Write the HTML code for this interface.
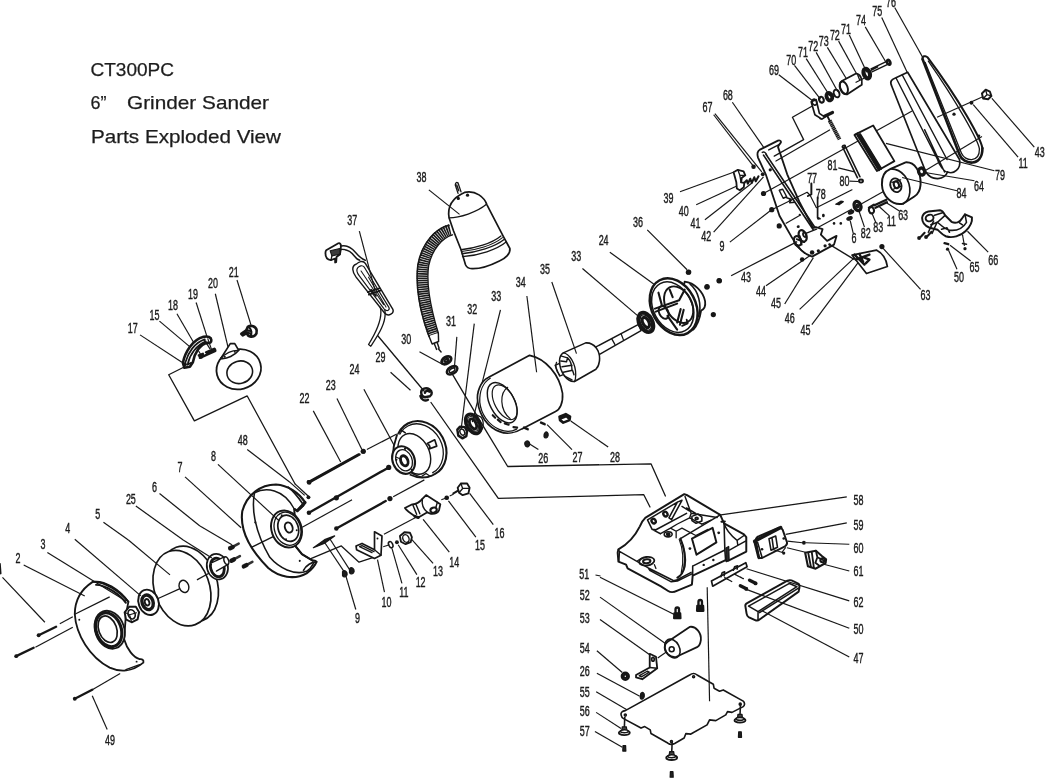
<!DOCTYPE html>
<html><head><meta charset="utf-8"><title>CT300PC Parts Exploded View</title>
<style>
html,body{margin:0;padding:0;background:#fff;}
body{width:1045px;height:778px;overflow:hidden;font-family:"Liberation Sans",sans-serif;}
svg{display:block;}
svg text{font-family:"Liberation Sans",sans-serif;fill:#1c1c1c;}
svg path,svg ellipse,svg circle{stroke-linejoin:round;}
svg text{stroke:#161616;stroke-width:0.4px;}
</style></head><body>
<svg width="1045" height="778" viewBox="0 0 1045 778">
<defs><filter id="soft" x="0" y="0" width="100%" height="100%" filterUnits="userSpaceOnUse"><feGaussianBlur stdDeviation="0.45"/></filter></defs>
<rect width="1045" height="778" fill="#fff"/>
<g filter="url(#soft)">
<!-- 00_title.py -->
<g font-size="19" fill="#222" style="stroke:none">
<text style="stroke:#222;stroke-width:0.25px" x="90.5" y="75.5" textLength="83.5" lengthAdjust="spacingAndGlyphs">CT300PC</text>
<text style="stroke:#222;stroke-width:0.25px" x="90.5" y="109.3" textLength="16" lengthAdjust="spacingAndGlyphs">6”</text>
<text style="stroke:#222;stroke-width:0.25px" x="127" y="109.3" textLength="142" lengthAdjust="spacingAndGlyphs">Grinder Sander</text>
<text style="stroke:#222;stroke-width:0.25px" x="91" y="142.8" textLength="190" lengthAdjust="spacingAndGlyphs">Parts Exploded View</text>
</g>
<!-- 05_lines.py -->
<path d="M 452.8 374.8 L 482.3 424.6 L 507.7 466.5 L 651 463.8 L 665.4 496" fill="none" stroke="#161616" stroke-width="1.3" stroke-linecap="round" />
<path d="M 431 402.5 L 498.3 498.4 L 643.8 494.7 L 650 507" fill="none" stroke="#161616" stroke-width="1.3" stroke-linecap="round" />
<path d="M 378 336 L 424 391" fill="none" stroke="#161616" stroke-width="1.3" stroke-linecap="round" />
<!-- 10_lamp.py -->
<text transform="translate(421.4 177.45) scale(0.64 1)" text-anchor="middle" font-size="14" y="5.012">38</text>
<text transform="translate(352.35 219.83) scale(0.64 1)" text-anchor="middle" font-size="14" y="5.012">37</text>
<path d="M359.33 231.05 L374.78 289.63" stroke="#161616" stroke-width="1.17" fill="none"/>
<path d="M 450.32 229.8 C 439.6 232.29 427.13 244.76 423.14 264.7 C 420.15 284.64 424.64 309.57 433.37 334.5" fill="none" stroke="#fff" stroke-width="11.18" stroke-linecap="round" style="stroke-linecap:butt"/>
<path d="M 450.32 229.8 C 439.6 232.29 427.13 244.76 423.14 264.7 C 420.15 284.64 424.64 309.57 433.37 334.5" fill="none" stroke="#1a1a1a" stroke-width="11.18" stroke-linecap="round" stroke-dasharray="1.6 0.6" style="stroke-linecap:butt"/>
<path d="M 448.82 225.31 C 435.86 228.55 422.15 242.26 417.91 264.7 C 415.17 284.64 419.65 312.06 429.13 336.49" fill="none" stroke="#161616" stroke-width="1.56" stroke-linecap="round" />
<path d="M 452.56 234.78 C 443.34 237.28 432.12 248.49 428.63 265.94 C 425.89 284.64 430.37 307.08 438.35 333.25" fill="none" stroke="#161616" stroke-width="1.3" stroke-linecap="round" />
<path d="M 429.13 336.49 L 432.12 343.97 L 438.6 341.48 L 438.35 333.25 M 434.11 343.22 L 436.61 349.45 M 437.1 342.22 L 439.1 348.21 M 438.35 348.71 L 441.09 351.95" fill="none" stroke="#161616" stroke-width="1.43" stroke-linecap="round" />
<path d="M 449.07 217.83 C 447.08 206.12 453.31 197.39 464.53 192.41 C 475.74 189.91 484.47 197.39 486.96 204.87 L 503.16 236.03 L 509.89 248.49 C 510.64 253.48 505.66 258.47 499.42 260.96 C 489.45 265.94 478.24 268.94 472 268.69 C 468.26 268.44 466.52 267.19 465.52 264.7 L 461.04 249.74 L 453.56 231.05 Z" fill="#fff" stroke="#161616" stroke-width="1.69" stroke-linecap="round" />
<path d="M 449.07 217.83 C 459.54 217.83 476.99 212.35 486.46 204.37" fill="none" stroke="#161616" stroke-width="1.3" stroke-linecap="round" />
<path d="M 461.04 249.74 C 474.5 248.49 491.95 243.51 500.92 236.03" fill="none" stroke="#161616" stroke-width="1.3" stroke-linecap="round" />
<path d="M 461.53 251.49 C 475.74 250.24 493.19 245.25 502.42 237.53" fill="none" stroke="#161616" stroke-width="1.04" stroke-linecap="round" />
<path d="M 462.03 253.73 C 476.99 252.23 494.44 247.25 504.41 239.27" fill="none" stroke="#161616" stroke-width="1.3" stroke-linecap="round" />
<path d="M 462.53 256.72 C 478.24 255.47 496.93 249.74 506.4 241.76" fill="none" stroke="#161616" stroke-width="1.3" stroke-linecap="round" />
<path d="M428.88 189.91 L459.54 214.34" stroke="#161616" stroke-width="1.17" fill="none"/>
<path d="M 455.3 184.93 Q 455.55 181.44 458.04 182.93 L 461.04 191.91 M 455.3 184.93 L 458.04 193.4 M 456.8 184.93 L 458.79 190.91" fill="none" stroke="#161616" stroke-width="1.3" stroke-linecap="round" />
<circle cx="458.29" cy="198.39" r="1.62033" fill="#161616"/>
<circle cx="467.52" cy="195.15" r="1.62033" fill="#161616"/>
<path d="M 326.17 250.24 L 338.39 243.26 C 339.88 242.76 341.13 244.26 340.88 246 L 340.63 250.24 L 339.88 254.48 L 336.64 256.72 L 336.15 262.21 L 335.15 262.45 L 335.15 258.47 L 330.91 260.21 C 327.42 259.71 325.43 256.72 325.43 253.23 C 325.43 251.98 325.68 250.99 326.17 250.24 Z" fill="#fff" stroke="#161616" stroke-width="1.82" stroke-linecap="round" />
<path d="M 330.16 250.74 L 339.64 248.49 L 340.13 253.98 L 331.91 255.97 Z" fill="#3a3a3a" stroke="#161616" stroke-width="1.04" stroke-linecap="round" />
<path d="M 330.91 260.21 L 331.91 255.97 M 336.64 256.72 L 340.13 253.98" fill="none" stroke="#161616" stroke-width="1.3" stroke-linecap="round" />
<path d="M 340.88 246 C 346.37 244.76 351.1 247.25 355.34 252.23 C 358.58 255.97 361.82 259.21 365.31 260.21" fill="none" stroke="#161616" stroke-width="1.43" stroke-linecap="round" />
<path d="M 340.88 249.49 C 347.36 248.74 351.1 251.74 354.34 255.97 C 356.34 258.72 357.83 259.96 359.83 260.21" fill="none" stroke="#161616" stroke-width="1.43" stroke-linecap="round" />
<path d="M 356.09 264.2 C 351.1 265.94 352.35 272.18 356.09 277.16 L 384.76 313.31 C 388.49 317.05 394.73 313.31 392.73 309.07 L 365.31 263.45 C 362.82 259.71 358.58 262.21 356.09 264.2 Z" fill="none" stroke="#161616" stroke-width="1.43" stroke-linecap="round" />
<path d="M 357.83 267.69 C 356.09 269.68 356.84 272.67 359.33 275.92 L 384.26 309.07 C 387.25 312.06 390.24 310.07 388.74 307.08 L 364.31 267.19 C 362.32 264.7 359.33 265.94 357.83 267.69" fill="none" stroke="#161616" stroke-width="1.17" stroke-linecap="round" />
<path d="M 361.07 270.93 L 383.51 304.58 M 368.55 277.16 L 386 307.08" fill="none" stroke="#161616" stroke-width="1.04" stroke-linecap="round" />
<path d="M 367.8 292.12 L 379.27 288.38 M 368.8 294.61 L 380.27 290.62 M 371.05 289.63 L 376.03 295.86" fill="none" stroke="#161616" stroke-width="1.69" stroke-linecap="round" />
<path d="M 380.27 307.08 C 383.51 319.54 374.78 334.5 368.55 344.47 L 370.8 346.21 C 377.78 335.74 387.25 322.03 384.76 309.57" fill="none" stroke="#161616" stroke-width="1.3" stroke-linecap="round" />
<!-- 20_motor.py -->
<text transform="translate(406.23 339.39) scale(0.64 1)" text-anchor="middle" font-size="14" y="5.012">30</text>
<path d="M419.44 351.85 L442.38 364.31" stroke="#161616" stroke-width="1.17" fill="none"/>
<text transform="translate(451.1 321.19) scale(0.64 1)" text-anchor="middle" font-size="14" y="5.012">31</text>
<path d="M456.84 336.89 L454.34 368.55" stroke="#161616" stroke-width="1.17" fill="none"/>
<text transform="translate(472.29 309.47) scale(0.64 1)" text-anchor="middle" font-size="14" y="5.012">32</text>
<path d="M474.29 323.68 L461.07 429.63" stroke="#161616" stroke-width="1.17" fill="none"/>
<text transform="translate(496.22 296.01) scale(0.64 1)" text-anchor="middle" font-size="14" y="5.012">33</text>
<path d="M500.46 309.97 L472.29 422.15" stroke="#161616" stroke-width="1.17" fill="none"/>
<text transform="translate(520.65 282.05) scale(0.64 1)" text-anchor="middle" font-size="14" y="5.012">34</text>
<text transform="translate(545.08 268.59) scale(0.64 1)" text-anchor="middle" font-size="14" y="5.012">35</text>
<path d="M 488.25 377.53 L 529.63 355.34 C 545.83 358.58 559.54 374.78 562.53 393.48 C 563.28 403.45 559.54 409.68 555.55 411.43 L 521.9 428.88 C 515.92 432.62 507.19 434.61 499.71 431.62 C 487.25 427.13 479.27 414.67 477.78 402.21 C 476.03 392.23 481.02 381.02 488.25 377.53 Z" fill="#fff" stroke="#161616" stroke-width="1.69" stroke-linecap="round" />
<path d="M 490.24 378.27 C 483.51 382.26 479.27 390.99 479.77 402.21 C 481.02 413.42 487.75 424.64 499.71 429.63 C 505.94 432.12 512.18 431.62 516.66 429.13" fill="none" stroke="#161616" stroke-width="1.3" stroke-linecap="round" />
<ellipse cx="0" cy="0" rx="12.2148" ry="21.9367" transform="translate(502.21 402.7) rotate(-28)" fill="none" stroke="#161616" stroke-width="1.43"/>
<ellipse cx="0" cy="0" rx="9.97124" ry="18.9453" transform="translate(504.7 402.21) rotate(-28)" fill="none" stroke="#161616" stroke-width="1.17"/>
<path d="M 507.69 387.25 C 499.71 392.73 499.21 409.68 510.18 418.66" fill="none" stroke="#161616" stroke-width="1.17" stroke-linecap="round" />
<path d="M 492.73 415.17 L 495.23 417.66 M 497.72 419.65 L 500.71 422.15 M 504.7 423.39 L 508.69 424.64 M 513.42 427.13 L 517.16 427.63" fill="none" stroke="#161616" stroke-width="2.08" stroke-linecap="round" />
<path d="M526.88 296.01 L536.61 372.29" stroke="#161616" stroke-width="1.17" fill="none"/>
<ellipse cx="0" cy="0" rx="5.2349" ry="3.24065" transform="translate(446.37 360.33) rotate(-32)" fill="none" stroke="#161616" stroke-width="2.86"/>
<ellipse cx="0" cy="0" rx="2.24353" ry="1.2464" transform="translate(446.37 360.33) rotate(-32)" fill="none" stroke="#161616" stroke-width="2.08"/>
<ellipse cx="0" cy="0" rx="5.73346" ry="3.48993" transform="translate(452.1 370.3) rotate(-32)" fill="none" stroke="#161616" stroke-width="2.6"/>
<ellipse cx="0" cy="0" rx="3.24065" ry="1.74497" transform="translate(452.1 370.3) rotate(-32)" fill="none" stroke="#161616" stroke-width="1.56"/>
<path d="M 421.19 392.23 C 421.19 388.49 426.17 387.25 429.42 389.24 C 432.41 390.99 432.41 394.73 429.91 396.22 L 424.93 397.22 C 422.44 396.72 421.19 394.73 421.19 392.23 Z M 424.93 392.73 C 424.93 390.74 427.92 390.24 429.42 391.74 M 420.44 395.97 C 421.19 399.71 424.93 401.71 427.92 399.71" fill="none" stroke="#161616" stroke-width="2.47" stroke-linecap="round" />
<path d="M 457.33 429.63 L 460.08 426.63 L 464.81 427.13 L 467.06 431.12 L 466.31 436.11 L 462.32 438.35 L 458.33 435.61 Z" fill="none" stroke="#161616" stroke-width="2.47" stroke-linecap="round" />
<ellipse cx="0" cy="0" rx="2.24353" ry="3.24065" transform="translate(462.32 432.12) rotate(-25)" fill="none" stroke="#161616" stroke-width="1.43"/>
<ellipse cx="0" cy="0" rx="6.4813" ry="10.4698" transform="translate(473.04 423.89) rotate(-28)" fill="none" stroke="#161616" stroke-width="3.38"/>
<ellipse cx="0" cy="0" rx="2.99137" ry="5.48418" transform="translate(473.04 423.89) rotate(-28)" fill="none" stroke="#161616" stroke-width="2.86"/>
<ellipse cx="0" cy="0" rx="4.73634" ry="7.97699" transform="translate(473.04 423.89) rotate(-28)" fill="none" stroke="#161616" stroke-width="1.04"/>
<path d="M 476.03 414.67 L 481.02 417.16 C 484.76 422.15 483.51 429.63 479.27 433.37" fill="none" stroke="#161616" stroke-width="1.3" stroke-linecap="round" />
<path d="M 525.89 441.59 C 527.63 440.1 529.63 441.59 529.63 444.08 C 529.63 447.08 527.13 447.57 525.64 446.08 C 524.64 444.58 524.64 442.59 525.89 441.59 Z" fill="#1c1c1c" stroke="#161616" stroke-width="1.3" stroke-linecap="round" />
<path d="M 545.08 432.62 C 546.58 431.12 548.57 432.62 548.07 435.61 C 547.57 438.1 545.08 438.6 544.08 436.61 C 543.59 435.11 544.08 433.61 545.08 432.62 Z" fill="#1c1c1c" stroke="#161616" stroke-width="1.3" stroke-linecap="round" />
<path d="M 524.14 427.63 L 527.63 429.13 M 541.09 422.65 L 544.58 424.14" fill="none" stroke="#161616" stroke-width="2.6" stroke-linecap="round" />
<path d="M 559.54 416.66 L 565.77 414.17 L 570.01 416.66 L 569.51 420.15 L 563.28 422.65 L 560.04 420.15 Z M 561.53 418.16 L 566.52 416.16 L 568.51 418.16" fill="none" stroke="#161616" stroke-width="2.6" stroke-linecap="round" />
<text transform="translate(543.34 457.55) scale(0.64 1)" text-anchor="middle" font-size="14" y="5.012">26</text>
<path d="M538.35 449.57 L529.63 444.08" stroke="#161616" stroke-width="1.17" fill="none"/>
<text transform="translate(577.49 457.05) scale(0.64 1)" text-anchor="middle" font-size="14" y="5.012">27</text>
<path d="M572 449.57 L547.08 424.64" stroke="#161616" stroke-width="1.17" fill="none"/>
<text transform="translate(614.88 456.55) scale(0.64 1)" text-anchor="middle" font-size="14" y="5.012">28</text>
<path d="M608.15 447.08 L570.76 420.9" stroke="#161616" stroke-width="1.17" fill="none"/>
<path d="M 593.69 348.11 L 638.56 324.43 L 641.05 330.66 L 598.68 354.84 Z" fill="#fff" stroke="#161616" stroke-width="1.43" stroke-linecap="round" />
<path d="M 611.64 338.64 L 614.88 344.37 M 621.11 333.65 L 623.36 339.64" fill="none" stroke="#161616" stroke-width="1.3" stroke-linecap="round" />
<path d="M 555.05 365.31 L 564.53 361.07 L 569.01 372.29 L 559.54 376.03 Z" fill="#fff" stroke="#161616" stroke-width="1.3" stroke-linecap="round" />
<path d="M 563.28 352.85 L 585.71 342.88 C 594.44 342.38 600.67 351.1 599.42 361.07 C 598.93 365.31 597.43 367.8 595.93 369.3 L 574.5 381.51 C 567.52 382.26 559.54 372.29 559.54 361.07 C 559.54 356.84 560.79 354.34 563.28 352.85 Z" fill="#fff" stroke="#161616" stroke-width="1.56" stroke-linecap="round" />
<path d="M 563.28 352.85 C 569.51 353.6 575.74 363.57 575.74 374.78 C 575.74 378.52 575.24 380.27 574.5 381.51" fill="none" stroke="#161616" stroke-width="1.3" stroke-linecap="round" />
<path d="M 561.53 356.09 L 567.52 357.83 L 566.52 361.82 L 560.79 361.07 M 562.03 366.81 L 572 365.31 M 563.28 372.29 L 572.5 370.3 L 574 374.78 M 567.52 357.83 C 570.76 361.07 572 365.31 572 370.3 M 564.53 376.03 L 572 379.77" fill="none" stroke="#161616" stroke-width="1.43" stroke-linecap="round" />
<path d="M 556.55 362.32 C 555.05 365.31 555.8 371.05 559.54 374.78" fill="none" stroke="#161616" stroke-width="1.3" stroke-linecap="round" />
<path d="M551.81 282.05 L576.49 353.6" stroke="#161616" stroke-width="1.17" fill="none"/>
<ellipse cx="0" cy="0" rx="6.73058" ry="10.4698" transform="translate(645.79 322.44) rotate(-28)" fill="#fff" stroke="#161616" stroke-width="3.64"/>
<ellipse cx="0" cy="0" rx="2.99137" ry="5.48418" transform="translate(645.79 322.44) rotate(-28)" fill="none" stroke="#161616" stroke-width="3.12"/>
<ellipse cx="0" cy="0" rx="4.98562" ry="8.22627" transform="translate(645.79 322.44) rotate(-28)" fill="none" stroke="#161616" stroke-width="1.3"/>
<!-- 25_endbell_right.py -->
<text transform="translate(668.44 197.95) scale(0.64 1)" text-anchor="middle" font-size="14" y="5.012">39</text>
<text transform="translate(638.02 221.88) scale(0.64 1)" text-anchor="middle" font-size="14" y="5.012">36</text>
<text transform="translate(603.62 239.83) scale(0.64 1)" text-anchor="middle" font-size="14" y="5.012">24</text>
<text transform="translate(576.2 256.03) scale(0.64 1)" text-anchor="middle" font-size="14" y="5.012">33</text>
<text transform="translate(789.84 317.6) scale(0.64 1)" text-anchor="middle" font-size="14" y="5.012">46</text>
<text transform="translate(805.54 329.57) scale(0.64 1)" text-anchor="middle" font-size="14" y="5.012">45</text>
<path d="M647.25 229.86 L687.13 269.74" stroke="#161616" stroke-width="1.17" fill="none"/>
<path d="M609.86 252.29 L654.73 284.7" stroke="#161616" stroke-width="1.17" fill="none"/>
<path d="M582.44 268.49 L642.26 319.6" stroke="#161616" stroke-width="1.17" fill="none"/>
<circle cx="688.38" cy="272.23" r="2.59252" fill="#161616"/>
<circle cx="707.08" cy="286.69" r="2.59252" fill="#161616"/>
<circle cx="719.04" cy="280.71" r="2.59252" fill="#161616"/>
<circle cx="713.31" cy="314.61" r="2.59252" fill="#161616"/>
<path d="M 684.64 281.71 C 694.61 282.7 703.34 292.18 705.08 301.15 C 705.83 306.63 703.34 309.63 701.09 310.62 C 699.6 319.6 697.1 325.83 693.37 329.57 L 677.16 319.6 Z" fill="#fff" stroke="#161616" stroke-width="1.82" stroke-linecap="round" />
<path d="M 690.12 284.2 C 698.35 290.93 702.09 304.64 698.6 316.61" fill="none" stroke="#161616" stroke-width="1.56" stroke-linecap="round" />
<ellipse cx="0" cy="0" rx="21.9367" ry="29.9137" transform="translate(673.67 306.63) rotate(-28)" fill="#fff" stroke="#161616" stroke-width="2.47"/>
<ellipse cx="0" cy="0" rx="19.1946" ry="26.6731" transform="translate(672.67 307.13) rotate(-28)" fill="none" stroke="#161616" stroke-width="1.56"/>
<ellipse cx="0" cy="0" rx="12.9626" ry="19.4439" transform="translate(678.66 304.64) rotate(-28)" fill="none" stroke="#161616" stroke-width="1.95"/>
<ellipse cx="0" cy="0" rx="4.48706" ry="6.73058" transform="translate(663.7 312.37) rotate(-28)" fill="none" stroke="#161616" stroke-width="1.95"/>
<path d="M 654.98 308.63 L 679.16 300.15 M 655.72 311.62 L 677.16 303.64 M 683.64 309.88 L 679.9 324.83 M 680.65 309.13 L 677.16 322.59 M 667.44 315.86 L 677.16 329.57 M 679.16 300.15 L 684.64 289.68 M 669.68 289.68 L 672.67 297.16 M 658.47 292.67 L 661.71 304.64" fill="none" stroke="#161616" stroke-width="2.08" stroke-linecap="round" />
<path d="M 682.15 325.83 L 687.63 323.34 L 686.63 319.6" fill="none" stroke="#161616" stroke-width="1.82" stroke-linecap="round" />
<!-- 30_leftmid.py -->
<path d="M 183.65 367.28 L 168.7 374.76 L 194.37 420.87 L 247.22 395.94 L 295.08 483.94" fill="none" stroke="#161616" stroke-width="1.3" stroke-linecap="round" />
<text transform="translate(154.49 314.93) scale(0.64 1)" text-anchor="middle" font-size="14" y="5.012">15</text>
<path d="M159.47 321.16 L191.13 347.83" stroke="#161616" stroke-width="1.17" fill="none"/>
<text transform="translate(172.93 304.96) scale(0.64 1)" text-anchor="middle" font-size="14" y="5.012">18</text>
<path d="M176.92 313.68 L201.1 355.31" stroke="#161616" stroke-width="1.17" fill="none"/>
<text transform="translate(192.88 293.74) scale(0.64 1)" text-anchor="middle" font-size="14" y="5.012">19</text>
<path d="M196.12 302.46 L206.84 336.12" stroke="#161616" stroke-width="1.17" fill="none"/>
<text transform="translate(213.07 283.02) scale(0.64 1)" text-anchor="middle" font-size="14" y="5.012">20</text>
<path d="M215.31 293.74 L229.27 352.32" stroke="#161616" stroke-width="1.17" fill="none"/>
<text transform="translate(233.76 272.3) scale(0.64 1)" text-anchor="middle" font-size="14" y="5.012">21</text>
<path d="M237 280.03 L250.96 324.9" stroke="#161616" stroke-width="1.17" fill="none"/>
<text transform="translate(132.8 328.39) scale(0.64 1)" text-anchor="middle" font-size="14" y="5.012">17</text>
<path d="M140.03 334.87 L181.91 362.29" stroke="#161616" stroke-width="1.17" fill="none"/>
<path d="M 182.91 362.79 C 184.9 352.32 192.38 339.86 203.6 336.86 C 207.83 335.87 211.07 337.36 211.32 339.86 C 211.57 342.35 209.83 343.35 207.83 342.85 C 199.86 343.6 194.37 353.57 192.88 362.29 L 189.88 366.78 L 184.4 367.78 Z" fill="#fff" stroke="#161616" stroke-width="2.6" stroke-linecap="round" />
<path d="M 185.4 362.29 C 187.89 352.82 194.87 342.35 204.84 339.36 M 187.39 364.78 L 191.13 362.79 M 187.89 363.54 C 189.88 354.31 196.37 345.34 205.84 341.35" fill="none" stroke="#161616" stroke-width="1.69" stroke-linecap="round" />
<path d="M 198.86 355.31 L 202.85 353.82 M 206.09 352.32 L 214.31 348.83 M 199.86 357.8 L 215.31 350.82" fill="none" stroke="#161616" stroke-width="2.47" stroke-linecap="round" />
<circle cx="200.85" cy="356.56" r="2.26846" fill="#161616"/>
<circle cx="214.31" cy="349.83" r="1.94439" fill="#161616"/>
<circle cx="184.9" cy="364.29" r="1.94439" fill="#161616"/>
<path d="M 204.34 339.86 L 209.83 348.58 M 207.83 338.86 L 211.32 348.83" fill="none" stroke="#161616" stroke-width="1.17" stroke-linecap="round" />
<ellipse cx="0" cy="0" rx="22.4353" ry="19.9425" transform="translate(238.74 369.27) rotate(-15)" fill="#fff" stroke="#161616" stroke-width="1.82"/>
<ellipse cx="0" cy="0" rx="12.9626" ry="11.2176" transform="translate(239.74 372.26) rotate(-15)" fill="none" stroke="#161616" stroke-width="1.56"/>
<path d="M 220.8 358.55 L 230.27 343.6 L 234.76 343.6 L 238.74 350.33 C 234.76 355.31 227.28 359.3 220.8 358.55 Z" fill="#fff" stroke="#161616" stroke-width="1.69" stroke-linecap="round" />
<path d="M 220.8 358.55 C 224.78 353.57 232.26 349.83 238.74 350.33" fill="none" stroke="#161616" stroke-width="1.3" stroke-linecap="round" />
<circle cx="224.78" cy="356.81" r="0.972196" fill="#161616"/>
<circle cx="234.76" cy="351.82" r="0.972196" fill="#161616"/>
<path d="M 247.72 326.89 C 250.96 324.9 255.94 326.15 256.69 330.38 C 257.19 334.37 254.2 337.36 250.21 336.37 C 248.47 336.12 247.22 334.87 247.22 332.88 L 242.73 335.37 L 241.24 333.87 L 246.22 330.38 Z" fill="#fff" stroke="#161616" stroke-width="2.6" stroke-linecap="round" />
<path d="M 249.21 327.39 C 251.71 329.88 252.21 333.62 250.21 336.37 M 246.72 329.88 L 250.21 331.13 M 247.72 332.38 L 250.71 333.87" fill="none" stroke="#161616" stroke-width="2.08" stroke-linecap="round" />
<text transform="translate(242.73 439.57) scale(0.64 1)" text-anchor="middle" font-size="14" y="5.012">48</text>
<path d="M247.22 449.54 L289.6 481.95" stroke="#161616" stroke-width="1.17" fill="none"/>
<text transform="translate(213.57 455.77) scale(0.64 1)" text-anchor="middle" font-size="14" y="5.012">8</text>
<text transform="translate(179.91 466.99) scale(0.64 1)" text-anchor="middle" font-size="14" y="5.012">7</text>
<text transform="translate(304.55 398.44) scale(0.64 1)" text-anchor="middle" font-size="14" y="5.012">22</text>
<path d="M313.28 410.9 L340.7 462" stroke="#161616" stroke-width="1.17" fill="none"/>
<text transform="translate(330.73 385.23) scale(0.64 1)" text-anchor="middle" font-size="14" y="5.012">23</text>
<path d="M336.96 398.44 L361.89 449.54" stroke="#161616" stroke-width="1.17" fill="none"/>
<text transform="translate(354.41 369.27) scale(0.64 1)" text-anchor="middle" font-size="14" y="5.012">24</text>
<path d="M363.88 389.21 L401.77 459.51" stroke="#161616" stroke-width="1.17" fill="none"/>
<text transform="translate(380.58 356.81) scale(0.64 1)" text-anchor="middle" font-size="14" y="5.012">29</text>
<path d="M390.56 372.26 L410.5 390.21" stroke="#161616" stroke-width="1.17" fill="none"/>
<path d="M 308.54 481.95 L 358.4 454.53" fill="none" stroke="#161616" stroke-width="2.34" stroke-linecap="round" />
<circle cx="308.54" cy="481.95" r="1.94439" fill="#161616"/>
<circle cx="363.14" cy="451.53" r="2.26846" fill="#161616"/>
<path d="M366.87 449.54 L396.79 434.08" stroke="#161616" stroke-width="1.17" fill="none"/>
<!-- 40_guard8.py -->
<path d="M 305.03 502.15 C 298.9 492.97 288.18 485.31 275.93 484.55 C 260.62 484.55 246.84 494.5 242.25 511.34 C 239.95 528.18 248.37 548.09 268.28 567.99 C 279 577.18 294.31 580.24 306.56 573.35 C 311.92 569.53 314.98 565.7 316.51 561.87 C 315.74 560.64 314.21 560.34 312.68 560.64 L 301.96 554.21 L 295.84 546.56 L 294.31 509.04 L 297.37 510.58 Z" fill="#fff" stroke="#161616" stroke-width="2.08" stroke-linecap="round" />
<path d="M 254.5 492.97 C 251.44 508.28 254.5 531.25 269.81 557.28 C 279 567.99 294.31 575.65 306.56 571.36 C 309.62 569.53 311.92 566.46 313.45 563.4" fill="none" stroke="#161616" stroke-width="1.56" stroke-linecap="round" />
<path d="M 254.5 492.97 C 265.22 486.84 283.59 488.37 294.31 509.04" fill="none" stroke="#161616" stroke-width="1.43" stroke-linecap="round" />
<path d="M 288.18 487.15 C 292.78 490.67 297.37 496.03 302.88 503.99 M 294.31 509.04 L 297.37 510.58 L 303.5 505.52" fill="none" stroke="#161616" stroke-width="1.82" stroke-linecap="round" />
<path d="M 297.37 510.58 C 299.67 508.28 302.27 505.98 305.03 502.46" fill="none" stroke="#161616" stroke-width="3.12" stroke-linecap="round" />
<path d="M 303.5 570.29 C 305.79 565.24 311.92 561.87 316.51 561.87" fill="none" stroke="#161616" stroke-width="1.69" stroke-linecap="round" />
<path d="M251.44 547.32 L274.71 535.84" stroke="#161616" stroke-width="1.43" fill="none"/>
<path d="M 295.84 546.56 L 301.96 554.21 L 312.68 560.64" fill="none" stroke="#161616" stroke-width="1.69" stroke-linecap="round" />
<circle cx="255.26" cy="522.83" r="0.796203" fill="#161616"/>
<circle cx="299.67" cy="561.1" r="0.796203" fill="#161616"/>
<path d="M294.98 483.87 L308.94 496.84" stroke="#161616" stroke-width="1.3" fill="none"/>
<path d="M289.49 481.88 L304.7 495.34" stroke="#161616" stroke-width="1.17" fill="none"/>
<path d="M185.04 476.89 L241.13 527.75" stroke="#161616" stroke-width="1.17" fill="none"/>
<path d="M200 526 L231.91 544.7" stroke="#161616" stroke-width="1.17" fill="none"/>
<circle cx="255.34" cy="522.26" r="0.972196" fill="#161616"/>
<circle cx="299.71" cy="560.65" r="0.972196" fill="#161616"/>
<ellipse cx="0" cy="0" rx="14.9569" ry="18.9453" transform="translate(286.5 528.99) rotate(-20)" fill="#fff" stroke="#161616" stroke-width="1.95"/>
<ellipse cx="0" cy="0" rx="12.9626" ry="16.9511" transform="translate(287.5 528.74) rotate(-20)" fill="none" stroke="#161616" stroke-width="1.3"/>
<ellipse cx="0" cy="0" rx="9.97124" ry="13.4612" transform="translate(288.25 528.25) rotate(-20)" fill="none" stroke="#161616" stroke-width="1.69"/>
<ellipse cx="0" cy="0" rx="3.73921" ry="5.2349" transform="translate(288.74 527.5) rotate(-20)" fill="none" stroke="#161616" stroke-width="1.95"/>
<circle cx="281.76" cy="515.28" r="0.972196" fill="#161616"/>
<circle cx="286" cy="539.21" r="0.972196" fill="#161616"/>
<circle cx="296.72" cy="530.24" r="0.972196" fill="#161616"/>
<path d="M217.95 464.43 L278.52 520.27" stroke="#161616" stroke-width="1.17" fill="none"/>
<path d="M 309.19 482.38 L 359.54 454.46" fill="none" stroke="#161616" stroke-width="2.34" stroke-linecap="round" />
<circle cx="309.19" cy="482.38" r="2.26846" fill="#161616"/>
<circle cx="363.28" cy="451.22" r="2.59252" fill="#161616"/>
<path d="M 308.94 512.79 L 388.71 467.42" fill="none" stroke="#161616" stroke-width="2.34" stroke-linecap="round" />
<circle cx="308.94" cy="512.79" r="2.26846" fill="#161616"/>
<circle cx="336.36" cy="497.83" r="2.59252" fill="#161616"/>
<circle cx="388.71" cy="467.42" r="2.59252" fill="#161616"/>
<path d="M 336.36 528.49 L 385.71 501.07" fill="none" stroke="#161616" stroke-width="2.34" stroke-linecap="round" />
<circle cx="336.36" cy="528.49" r="2.26846" fill="#161616"/>
<circle cx="389.95" cy="498.58" r="2.59252" fill="#161616"/>
<circle cx="308.44" cy="497.33" r="1.94439" fill="#161616"/>
<path d="M302.21 527.25 L352.06 499.83" stroke="#161616" stroke-width="1.17" fill="none"/>
<path d="M393.19 496.84 L424.35 479.88" stroke="#161616" stroke-width="1.17" fill="none"/>
<path d="M 313.42 547.69 L 324.64 539.71 L 334.61 535.97 L 324.14 543.45 Z" fill="#1c1c1c" stroke="#161616" stroke-width="1.3" stroke-linecap="round" />
<path d="M 309.68 559.16 L 341.34 545.94 L 359.04 562.15 L 375.74 556.66" fill="none" stroke="#161616" stroke-width="1.3" stroke-linecap="round" />
<path d="M329.63 538.47 L349.57 569.63" stroke="#161616" stroke-width="1.17" fill="none"/>
<path d="M324.14 541.71 L344.08 571.62" stroke="#161616" stroke-width="1.17" fill="none"/>
<path d="M 342.59 571.62 C 344.58 569.63 347.57 571.62 347.08 574.61 C 346.58 577.1 343.59 577.6 342.59 575.61 Z" fill="#1c1c1c" stroke="#161616" stroke-width="1.3" stroke-linecap="round" />
<path d="M 349.57 568.63 C 351.56 566.63 354.55 568.63 354.06 571.62 C 353.56 574.11 350.57 574.61 349.57 572.62 Z" fill="#1c1c1c" stroke="#161616" stroke-width="1.3" stroke-linecap="round" />
<text transform="translate(357.55 617.49) scale(0.64 1)" text-anchor="middle" font-size="14" y="5.012">9</text>
<path d="M355.8 609.51 L345.83 575.86" stroke="#161616" stroke-width="1.17" fill="none"/>
<path d="M 374.5 531.74 L 381.98 535.97 L 380.98 555.17 L 374.5 558.41 L 356.55 549.68 L 356.05 545.94 L 362.03 543.45 L 374.5 549.68 Z" fill="#fff" stroke="#161616" stroke-width="1.69" stroke-linecap="round" />
<path d="M 374.5 549.68 L 380.98 555.17 M 359.54 546.69 L 372 552.67 M 362.03 545.7 L 374 551.68 M 359.54 546.69 L 362.03 545.7" fill="none" stroke="#161616" stroke-width="1.3" stroke-linecap="round" />
<circle cx="377.49" cy="538.47" r="0.972196" fill="#161616"/>
<ellipse cx="0" cy="0" rx="1.99425" ry="3.24065" transform="translate(390.7 544.7) rotate(-25)" fill="none" stroke="#161616" stroke-width="1.56"/>
<circle cx="396.93" cy="542.21" r="1.94439" fill="#161616"/>
<path d="M 399.92 535.97 L 404.41 532.23 L 409.89 532.73 L 411.89 537.22 L 410.64 542.21 L 405.66 544.2 L 400.92 541.71 Z" fill="#fff" stroke="#161616" stroke-width="1.82" stroke-linecap="round" />
<ellipse cx="0" cy="0" rx="2.99137" ry="3.98849" transform="translate(405.91 538.47) rotate(-25)" fill="none" stroke="#161616" stroke-width="1.43"/>
<path d="M383.22 546.69 L389.45 544.7" stroke="#161616" stroke-width="1.04" fill="none"/>
<path d="M383.97 534.23 L425.6 512.29" stroke="#161616" stroke-width="1.17" fill="none"/>
<path d="M 404.91 508.05 L 412.39 504.31 C 417.37 504.31 420.36 501.32 422.36 498.83 L 426.1 495.09 L 437.32 502.32 L 440.31 504.31 L 439.06 510.05 C 437.81 512.79 434.82 514.04 431.08 513.79 L 427.34 512.29 L 418.37 517.53 L 414.88 516.28 C 411.14 513.79 406.65 510.55 404.91 508.05 Z" fill="#fff" stroke="#161616" stroke-width="1.82" stroke-linecap="round" />
<path d="M 412.89 505.06 L 416.63 514.29 M 416.13 504.81 L 419.87 513.79 M 422.36 498.83 C 421.61 503.82 423.6 509.3 427.34 512.29 M 437.32 502.32 L 436.07 506.81" fill="none" stroke="#161616" stroke-width="1.43" stroke-linecap="round" />
<ellipse cx="0" cy="0" rx="3.24065" ry="2.49281" transform="translate(433.58 510.05) rotate(-20)" fill="none" stroke="#161616" stroke-width="2.08"/>
<path d="M 414.88 516.28 L 418.37 517.53" fill="none" stroke="#161616" stroke-width="2.86" stroke-linecap="round" />
<path d="M441.3 499.83 L445.54 498.33" stroke="#161616" stroke-width="1.04" fill="none"/>
<circle cx="446.79" cy="497.83" r="1.94439" fill="#161616"/>
<text transform="translate(386.46 602.03) scale(0.64 1)" text-anchor="middle" font-size="14" y="5.012">10</text>
<path d="M384.47 592.06 L377.49 559.65" stroke="#161616" stroke-width="1.17" fill="none"/>
<text transform="translate(403.91 591.56) scale(0.64 1)" text-anchor="middle" font-size="14" y="5.012">11</text>
<path d="M401.92 583.34 L391.95 548.44" stroke="#161616" stroke-width="1.17" fill="none"/>
<text transform="translate(420.61 582.09) scale(0.64 1)" text-anchor="middle" font-size="14" y="5.012">12</text>
<path d="M416.87 574.61 L398.18 544.7" stroke="#161616" stroke-width="1.17" fill="none"/>
<text transform="translate(438.06 570.87) scale(0.64 1)" text-anchor="middle" font-size="14" y="5.012">13</text>
<path d="M433.08 563.39 L411.89 539.71" stroke="#161616" stroke-width="1.17" fill="none"/>
<text transform="translate(454.27 561.65) scale(0.64 1)" text-anchor="middle" font-size="14" y="5.012">14</text>
<path d="M449.28 552.18 L423.11 519.27" stroke="#161616" stroke-width="1.17" fill="none"/>
<path d="M 232.16 547.19 L 238.64 543.7" fill="none" stroke="#333" stroke-width="2.6" stroke-linecap="round" />
<path d="M 230.16 548.19 L 232.66 546.94" fill="none" stroke="#161616" stroke-width="4.42" stroke-linecap="round" />
<path d="M 233.4 559.65 L 239.88 556.16" fill="none" stroke="#333" stroke-width="2.6" stroke-linecap="round" />
<path d="M 231.41 560.65 L 233.9 559.41" fill="none" stroke="#161616" stroke-width="4.42" stroke-linecap="round" />
<path d="M 245.87 565.39 L 252.35 561.9" fill="none" stroke="#333" stroke-width="2.6" stroke-linecap="round" />
<path d="M 243.87 566.39 L 246.37 565.14" fill="none" stroke="#161616" stroke-width="4.42" stroke-linecap="round" />
<!-- 45_endbell_left.py -->
<ellipse cx="0" cy="0" rx="24.1802" ry="28.6673" transform="translate(421.27 448.83) rotate(-28)" fill="#fff" stroke="#161616" stroke-width="2.08"/>
<ellipse cx="0" cy="0" rx="21.9367" ry="26.4238" transform="translate(420.27 449.33) rotate(-28)" fill="none" stroke="#161616" stroke-width="1.3"/>
<path d="M 397.83 434.37 C 395.34 439.86 393.35 447.33 392.85 455.31 L 414.78 473.76 C 422.26 477.75 427.25 477.25 432.73 474.76 L 422.26 439.86 Z" fill="#fff" stroke="#fff" stroke-width="0.13" stroke-linecap="round" />
<path d="M 396.84 435.37 C 394.34 442.35 392.85 449.83 392.6 456.81" fill="none" stroke="#161616" stroke-width="1.82" stroke-linecap="round" />
<path d="M 410.3 474.76 C 418.52 478.74 426 478.49 432.73 475.25" fill="none" stroke="#161616" stroke-width="1.69" stroke-linecap="round" />
<ellipse cx="0" cy="0" rx="14.9569" ry="21.4382" transform="translate(414.29 453.82) rotate(-26)" fill="#fff" stroke="#161616" stroke-width="1.43"/>
<ellipse cx="0" cy="0" rx="10.9684" ry="14.209" transform="translate(403.57 460.05) rotate(-22)" fill="#fff" stroke="#161616" stroke-width="2.08"/>
<ellipse cx="0" cy="0" rx="7.97699" ry="10.9684" transform="translate(404.07 460.3) rotate(-22)" fill="none" stroke="#161616" stroke-width="1.3"/>
<ellipse cx="0" cy="0" rx="3.48993" ry="5.2349" transform="translate(404.31 460.8) rotate(-22)" fill="none" stroke="#161616" stroke-width="2.86"/>
<circle cx="396.34" cy="459.8" r="1.13423" fill="#161616"/>
<circle cx="405.06" cy="448.83" r="1.13423" fill="#161616"/>
<circle cx="411.79" cy="469.77" r="1.13423" fill="#161616"/>
<path d="M 427.25 443.6 L 434.73 439.86 L 436.72 446.09 L 429.74 448.83 M 427.75 443.84 C 429.74 445.34 430.24 447.33 429.74 448.83" fill="none" stroke="#161616" stroke-width="1.69" stroke-linecap="round" />
<path d="M 401.07 429.88 L 405.31 432.88 M 422.26 476 L 426 473.51 L 429.74 476" fill="none" stroke="#161616" stroke-width="1.43" stroke-linecap="round" />
<path d="M395.09 456.81 L401.82 459.55" stroke="#161616" stroke-width="1.17" fill="none"/>
<path d="M 457.66 487.72 L 460.9 483.48 L 467.13 483.48 L 469.63 487.72 L 468.38 493.45 L 462.65 495.2 L 459.16 492.7 Z" fill="#fff" stroke="#161616" stroke-width="1.82" stroke-linecap="round" />
<path d="M 460.9 483.48 L 462.65 488.47 L 459.16 492.7 M 462.65 488.47 L 469.13 488.47" fill="none" stroke="#161616" stroke-width="1.3" stroke-linecap="round" />
<path d="M 453.42 493.45 L 457.66 490.96" fill="none" stroke="#161616" stroke-width="2.08" stroke-linecap="round" />
<circle cx="446.69" cy="497.69" r="2.26846" fill="#161616"/>
<path d="M449.68 495.94 L453.42 494.2" stroke="#161616" stroke-width="1.04" fill="none"/>
<text transform="translate(499.54 533.34) scale(0.64 1)" text-anchor="middle" font-size="14" y="5.012">16</text>
<path d="M493.31 524.61 L469.63 493.45" stroke="#161616" stroke-width="1.17" fill="none"/>
<text transform="translate(480.1 545.05) scale(0.64 1)" text-anchor="middle" font-size="14" y="5.012">15</text>
<path d="M475.86 537.08 L448.44 500.93" stroke="#161616" stroke-width="1.17" fill="none"/>
<text transform="translate(584.3 574.47) scale(0.64 1)" text-anchor="middle" font-size="14" y="5.012">51</text>
<path d="M595.51 574.97 L600.5 575.96" stroke="#161616" stroke-width="1.17" fill="none"/>
<!-- 50_cover2.py -->
<path d="M2.49 577.39 L44.87 622.26" stroke="#161616" stroke-width="1.17" fill="none"/>
<path d="M 0 563.68 L 0.75 573.65" fill="none" stroke="#161616" stroke-width="1.56" stroke-linecap="round" />
<text transform="translate(17.95 557.95) scale(0.64 1)" text-anchor="middle" font-size="14" y="5.012">2</text>
<text transform="translate(42.88 543.74) scale(0.64 1)" text-anchor="middle" font-size="14" y="5.012">3</text>
<ellipse cx="0" cy="0" rx="27.4209" ry="38.8878" transform="translate(189.45 583.87) rotate(-20)" fill="#fff" stroke="#161616" stroke-width="1.69"/>
<ellipse cx="0" cy="0" rx="27.4209" ry="38.8878" transform="translate(181.98 588.11) rotate(-20)" fill="#fff" stroke="#161616" stroke-width="1.69"/>
<ellipse cx="0" cy="0" rx="4.73634" ry="6.23202" transform="translate(183.97 586.37) rotate(-20)" fill="none" stroke="#161616" stroke-width="1.43"/>
<path d="M157.05 599.08 L179.98 588.61" stroke="#161616" stroke-width="1.17" fill="none"/>
<path d="M196.93 579.88 L214.88 569.91" stroke="#161616" stroke-width="1.17" fill="none"/>
<path d="M128.38 540 L170.01 574.9" stroke="#161616" stroke-width="1.17" fill="none"/>
<ellipse cx="0" cy="0" rx="10.4698" ry="12.9626" transform="translate(217.37 566.67) rotate(-15)" fill="#fff" stroke="#161616" stroke-width="1.69"/>
<ellipse cx="0" cy="0" rx="6.73058" ry="9.47267" transform="translate(217.37 567.42) rotate(-15)" fill="none" stroke="#161616" stroke-width="2.86"/>
<path d="M 211.39 562.93 L 224.35 556.95 L 228.09 564.43 L 216.38 571.16" fill="#fff" stroke="#161616" stroke-width="1.3" stroke-linecap="round" />
<ellipse cx="0" cy="0" rx="2.24353" ry="3.98849" transform="translate(226.35 560.69) rotate(-20)" fill="#fff" stroke="#161616" stroke-width="1.56"/>
<path d="M183.22 540 L211.89 557.95" stroke="#161616" stroke-width="1.17" fill="none"/>
<ellipse cx="0" cy="0" rx="9.97124" ry="12.9626" transform="translate(148.57 602.32) rotate(-20)" fill="#fff" stroke="#161616" stroke-width="1.95"/>
<ellipse cx="0" cy="0" rx="5.48418" ry="7.47843" transform="translate(147.57 602.32) rotate(-20)" fill="none" stroke="#161616" stroke-width="3.38"/>
<ellipse cx="0" cy="0" rx="2.24353" ry="3.24065" transform="translate(147.08 602.32) rotate(-20)" fill="none" stroke="#161616" stroke-width="1.95"/>
<path d="M 92.73 581.88 C 82.26 588.61 74.78 599.83 74.78 614.29 C 76.03 634.73 89.74 657.16 109.68 667.63 C 119.65 672.12 132.12 672.12 143.34 662.65 C 144.08 660.15 142.09 658.66 139.6 659.16 C 133.37 657.16 127.13 649.68 124.14 639.21 L 125.89 614.78 L 128.38 601.82 C 119.65 589.86 104.7 579.88 92.73 581.88 Z" fill="#fff" stroke="#161616" stroke-width="1.82" stroke-linecap="round" />
<path d="M 92.73 581.88 C 104.7 581.13 120.9 592.35 128.38 601.82 M 95.97 584.87 C 105.94 584.87 119.65 594.34 125.89 602.82" fill="none" stroke="#161616" stroke-width="1.95" stroke-linecap="round" />
<path d="M74.78 614.29 L109.68 596.84" stroke="#161616" stroke-width="1.3" fill="none"/>
<circle cx="79.27" cy="619.77" r="0.972196" fill="#161616"/>
<circle cx="136.61" cy="661.65" r="0.972196" fill="#161616"/>
<path d="M 125.89 669.63 L 139.6 664.64" fill="none" stroke="#161616" stroke-width="1.3" stroke-linecap="round" />
<ellipse cx="0" cy="0" rx="14.4583" ry="19.4439" transform="translate(109.68 629.74) rotate(-20)" fill="#fff" stroke="#161616" stroke-width="1.82"/>
<ellipse cx="0" cy="0" rx="12.464" ry="17.4497" transform="translate(108.69 629.74) rotate(-20)" fill="none" stroke="#161616" stroke-width="3.12"/>
<ellipse cx="0" cy="0" rx="8.97411" ry="13.7105" transform="translate(107.69 629.24) rotate(-20)" fill="none" stroke="#161616" stroke-width="1.69"/>
<path d="M23.68 564.93 L84.76 596.09" stroke="#161616" stroke-width="1.17" fill="none"/>
<path d="M47.36 552.46 L125.89 601.07" stroke="#161616" stroke-width="1.17" fill="none"/>
<path d="M 124.64 612.29 L 129.13 606.81 L 135.86 606.81 L 139.1 612.29 L 137.6 619.27 L 131.62 622.26 L 125.89 619.27 Z" fill="#fff" stroke="#161616" stroke-width="1.95" stroke-linecap="round" />
<ellipse cx="0" cy="0" rx="3.48993" ry="4.73634" transform="translate(131.62 614.29) rotate(-20)" fill="none" stroke="#161616" stroke-width="1.56"/>
<path d="M 124.64 612.29 L 129.63 614.78 L 136.61 612.79 M 129.63 614.78 L 131.62 622.26" fill="none" stroke="#161616" stroke-width="1.17" stroke-linecap="round" />
<path d="M74.78 539.25 L140.84 595.84" stroke="#161616" stroke-width="1.17" fill="none"/>
<path d="M 38.64 635.23 L 56.09 626.75" fill="none" stroke="#161616" stroke-width="2.34" stroke-linecap="round" />
<circle cx="38.64" cy="635.23" r="1.94439" fill="#161616"/>
<path d="M 16.2 656.16 L 33.65 647.69" fill="none" stroke="#161616" stroke-width="2.34" stroke-linecap="round" />
<circle cx="16.2" cy="656.16" r="1.94439" fill="#161616"/>
<path d="M 74.78 698.79 L 92.23 689.82" fill="none" stroke="#161616" stroke-width="2.34" stroke-linecap="round" />
<circle cx="74.78" cy="698.79" r="1.94439" fill="#161616"/>
<path d="M59.83 623.76 L72.79 616.78" stroke="#161616" stroke-width="1.17" fill="none"/>
<path d="M35.4 647.19 L72.79 627.25" stroke="#161616" stroke-width="1.17" fill="none"/>
<path d="M92.73 689.57 L120.15 673.61" stroke="#161616" stroke-width="1.17" fill="none"/>
<path d="M92.23 695.8 L107.19 729.45" stroke="#161616" stroke-width="1.17" fill="none"/>
<text transform="translate(109.93 739.92) scale(0.64 1)" text-anchor="middle" font-size="14" y="5.012">49</text>
<!-- 55_leftlabels.py -->
<text transform="translate(154.55 486.81) scale(0.64 1)" text-anchor="middle" font-size="14" y="5.012">6</text>
<text transform="translate(130.87 499.27) scale(0.64 1)" text-anchor="middle" font-size="14" y="5.012">25</text>
<text transform="translate(97.72 514.23) scale(0.64 1)" text-anchor="middle" font-size="14" y="5.012">5</text>
<text transform="translate(67.8 528.44) scale(0.64 1)" text-anchor="middle" font-size="14" y="5.012">4</text>
<path d="M159.54 493.54 L199.92 525.94" stroke="#161616" stroke-width="1.17" fill="none"/>
<path d="M135.86 506 L183.22 539.9" stroke="#161616" stroke-width="1.17" fill="none"/>
<path d="M103.45 522.21 L128.38 539.9" stroke="#161616" stroke-width="1.17" fill="none"/>
<!-- 60_base.py -->
<path d="M 645.22 517.92 L 684.26 494.19 L 686.56 494.95 L 720.24 514.86 L 724.07 523.28 L 743.98 534.3 L 746.27 537.06 L 746.27 551.61 L 727.9 560.79 L 725.6 560.33 L 725.6 560.03 L 692.68 575.64 L 691.92 584.53 L 677.37 590.65 C 674.31 592.18 670.48 592.49 668.18 590.96 L 660.53 586.06 L 627.61 568.45 L 626.08 564.62 L 618.42 561.56 L 617.66 552.37 L 618.42 549.31 C 626.84 544.72 634.5 537.06 639.86 526.34 C 641.39 522.51 642.92 519.91 645.22 517.92 Z" fill="#fff" stroke="#161616" stroke-width="1.95" stroke-linecap="round" />
<path d="M 618.42 549.31 L 619.49 551.45 L 648.28 567.99 L 672.78 580.24 C 675.07 580.85 677.37 579.93 679.21 578.71 L 691.15 572.28 M 619.49 551.45 L 618.88 561.25 M 648.28 567.99 L 650.12 570.74 L 671.25 581.77 L 677.37 581.16 L 691.92 573.81" fill="none" stroke="#161616" stroke-width="1.43" stroke-linecap="round" />
<path d="M 637.56 560.79 L 641.39 558.19 M 654.4 564.62 L 655.93 568.45" fill="none" stroke="#161616" stroke-width="1.3" stroke-linecap="round" />
<ellipse cx="0" cy="0" rx="7.6558" ry="4.28725" transform="translate(646.75 561.25) rotate(-8)" fill="none" stroke="#161616" stroke-width="1.82"/>
<ellipse cx="0" cy="0" rx="3.67478" ry="1.99051" transform="translate(646.75 561.25) rotate(-8)" fill="none" stroke="#161616" stroke-width="2.08"/>
<path d="M 680.43 538.59 C 684.26 547.78 685.79 558.5 684.72 566.15 C 683.5 572.28 680.43 576.1 677.37 577.64" fill="none" stroke="#161616" stroke-width="2.08" stroke-linecap="round" />
<path d="M 681.96 542.42 C 685.03 550.84 685.33 561.56 683.19 570.74 M 679.21 539.36 C 683.19 549.31 683.8 561.56 681.2 573.04" fill="none" stroke="#161616" stroke-width="1.17" stroke-linecap="round" />
<path d="M 680.43 538.59 L 720.24 514.86 M 692.68 566.15 L 724.84 550.07 L 724.07 523.28 M 692.68 566.15 L 692.68 575.64 M 724.84 550.07 L 725.6 560.03" fill="none" stroke="#161616" stroke-width="1.56" stroke-linecap="round" />
<path d="M 691.92 538.59 L 712.59 527.87 L 716.42 542.42 L 696.51 554.67 Z" fill="none" stroke="#161616" stroke-width="1.95" stroke-linecap="round" />
<circle cx="689.93" cy="548.54" r="1.39336" fill="#161616"/>
<circle cx="718.71" cy="532.77" r="1.39336" fill="#161616"/>
<circle cx="703.71" cy="564.93" r="1.1943" fill="#161616"/>
<circle cx="713.35" cy="560.03" r="1.1943" fill="#161616"/>
<path d="M 725.91 548.08 L 728.66 546.55 L 729.12 560.03 L 726.37 561.56 Z" fill="#2a2a2a" stroke="#161616" stroke-width="1.3" stroke-linecap="round" />
<path d="M 724.07 523.28 C 725.6 528.64 730.96 535.53 737.09 540.43 L 743.98 535.53 M 737.09 540.43 L 737.85 545.48 L 729.43 550.07 M 737.85 545.48 L 745.97 540.89" fill="none" stroke="#161616" stroke-width="1.43" stroke-linecap="round" />
<path d="M 721.47 521.75 L 724.84 521.44" fill="none" stroke="#161616" stroke-width="2.08" stroke-linecap="round" />
<path d="M 647.51 519.91 L 677.37 502.15 L 681.96 500.31 M 647.51 519.91 L 652.11 529.4 L 655.93 529.71 L 686.56 513.33 M 677.37 502.15 L 668.95 517.92 L 671.55 519.6 L 681.96 500.31 M 652.11 529.4 L 660.53 533.69" fill="none" stroke="#161616" stroke-width="1.56" stroke-linecap="round" />
<path d="M 685.03 496.48 L 691.15 513.33 L 717.18 517.46 M 686.56 507.97 L 695.74 513.33 M 691.15 513.33 L 689.62 517.92 L 701.87 524.04 M 681.96 506.44 L 689.62 511.03" fill="none" stroke="#161616" stroke-width="1.43" stroke-linecap="round" />
<path d="M 660.53 533.69 L 670.48 528.18 L 676.15 531.24 L 681.96 528.18 L 695.74 535.53 M 676.15 531.24 L 676.15 537.83 M 670.48 528.18 L 677.37 524.04 L 689.62 517.92 M 701.87 524.04 L 711.06 520.22 M 695.74 535.53 L 707.99 529.4" fill="none" stroke="#161616" stroke-width="1.3" stroke-linecap="round" />
<ellipse cx="0" cy="0" rx="1.99051" ry="2.44986" transform="translate(653.64 521.14) rotate(-30)" fill="none" stroke="#161616" stroke-width="2.34"/>
<ellipse cx="0" cy="0" rx="1.99051" ry="2.44986" transform="translate(665.43 514.09) rotate(-30)" fill="none" stroke="#161616" stroke-width="2.34"/>
<ellipse cx="0" cy="0" rx="3.98102" ry="2.60297" transform="translate(668.18 534.3) rotate(0)" fill="none" stroke="#161616" stroke-width="1.56"/>
<ellipse cx="0" cy="0" rx="1.37804" ry="1.07181" transform="translate(668.18 534.3) rotate(0)" fill="none" stroke="#161616" stroke-width="2.08"/>
<path d="M 691.92 516.39 L 698.04 514.09 L 701.87 517.15 L 701.87 520.98 L 696.05 523.28 L 691.92 520.52 Z" fill="none" stroke="#161616" stroke-width="1.56" stroke-linecap="round" />
<ellipse cx="0" cy="0" rx="1.37804" ry="1.07181" transform="translate(696.66 518.38) rotate(0)" fill="none" stroke="#161616" stroke-width="1.82"/>
<text transform="translate(858.5 499.91) scale(0.64 1)" text-anchor="middle" font-size="14" y="5.012">58</text>
<text transform="translate(858.5 524.59) scale(0.64 1)" text-anchor="middle" font-size="14" y="5.012">59</text>
<text transform="translate(858.5 547.78) scale(0.64 1)" text-anchor="middle" font-size="14" y="5.012">60</text>
<text transform="translate(858.5 571.46) scale(0.64 1)" text-anchor="middle" font-size="14" y="5.012">61</text>
<text transform="translate(858.5 601.87) scale(0.64 1)" text-anchor="middle" font-size="14" y="5.012">62</text>
<text transform="translate(858.5 628.79) scale(0.64 1)" text-anchor="middle" font-size="14" y="5.012">50</text>
<text transform="translate(858.5 658.21) scale(0.64 1)" text-anchor="middle" font-size="14" y="5.012">47</text>
<path d="M846.79 496.92 L720.9 514.87" stroke="#161616" stroke-width="1.17" fill="none"/>
<path d="M846.79 522.85 L785.71 534.31" stroke="#161616" stroke-width="1.17" fill="none"/>
<path d="M 755.8 539.8 C 755.8 537.8 757.05 536.81 759.04 536.06 L 778.24 527.83 C 780.73 527.33 781.98 528.08 782.72 529.83 L 786.96 542.29 C 787.46 544.29 786.46 545.28 784.97 546.28 L 762.53 557.75 C 760.04 558.74 759.04 557.75 758.54 556 Z" fill="#fff" stroke="#161616" stroke-width="1.95" stroke-linecap="round" />
<path d="M 754.55 541.29 L 780.73 527.58" fill="none" stroke="#161616" stroke-width="3.38" stroke-linecap="round" />
<path d="M 754.8 541.79 L 758.79 557.75" fill="none" stroke="#161616" stroke-width="2.86" stroke-linecap="round" />
<path d="M786.96 547.78 L805.41 552.26" stroke="#161616" stroke-width="1.17" fill="none"/>
<path d="M 757.55 542.29 L 762.03 557.25 M 769.01 538.8 L 775.74 536.06 L 777.49 547.28 L 771.01 550.27 Z M 772 537.8 L 773.5 548.77" fill="none" stroke="#161616" stroke-width="1.56" stroke-linecap="round" />
<circle cx="762.03" cy="549.27" r="1.29626" fill="#161616"/>
<circle cx="783.72" cy="538.55" r="1.29626" fill="#161616"/>
<path d="M787.46 541.05 L802.42 542.79" stroke="#161616" stroke-width="1.17" fill="none"/>
<circle cx="803.91" cy="542.79" r="1.94439" fill="#161616"/>
<path d="M785.71 547.28 L781.98 552.26" stroke="#161616" stroke-width="1.17" fill="none"/>
<circle cx="783.72" cy="553.01" r="1.62033" fill="#161616"/>
<path d="M772 549.27 L783.22 552.76" stroke="#161616" stroke-width="1.17" fill="none"/>
<path d="M849.28 544.29 L805.91 542.79" stroke="#161616" stroke-width="1.17" fill="none"/>
<path d="M 805.16 552.76 L 815.88 550.77 L 821.86 556 L 826.1 559.24 L 825.6 562.98 L 815.63 568.72 L 807.9 566.22 Z" fill="#fff" stroke="#161616" stroke-width="2.08" stroke-linecap="round" />
<path d="M 808.4 553.76 L 810.89 566.72 M 811.89 552.76 L 813.88 567.72 M 815.88 550.77 L 817.37 557.25 L 824.35 560.74 M 817.37 557.25 L 815.38 562.73 L 819.37 565.72" fill="none" stroke="#161616" stroke-width="1.82" stroke-linecap="round" />
<ellipse cx="0" cy="0" rx="2.24353" ry="1.99425" transform="translate(822.61 560.24) rotate(0)" fill="none" stroke="#161616" stroke-width="2.08"/>
<path d="M849.28 570.96 L823.85 564.23" stroke="#161616" stroke-width="1.17" fill="none"/>
<path d="M 711.43 580.93 L 745.83 562.73 L 747.08 566.72 L 712.67 586.16 Z" fill="#fff" stroke="#161616" stroke-width="1.69" stroke-linecap="round" />
<path d="M 720.9 576.69 L 722.15 572.7 L 724.64 571.71 L 724.14 575.94 M 733.37 570.21 L 734.61 566.72 L 737.6 565.72 L 737.1 569.21" fill="none" stroke="#161616" stroke-width="1.56" stroke-linecap="round" />
<path d="M849.28 600.87 L746.58 568.72" stroke="#161616" stroke-width="1.17" fill="none"/>
<path d="M 740.35 585.67 L 746.33 588.66" fill="none" stroke="#161616" stroke-width="3.38" stroke-linecap="round" />
<circle cx="746.33" cy="588.91" r="1.94439" fill="#161616"/>
<path d="M 749.57 580.18 L 755.55 583.17" fill="none" stroke="#161616" stroke-width="3.38" stroke-linecap="round" />
<circle cx="755.55" cy="583.42" r="1.94439" fill="#161616"/>
<path d="M 724.64 577.69 L 732.12 581.68 M 734.61 574.2 L 743.34 578.69" fill="none" stroke="#161616" stroke-width="1.3" stroke-linecap="round" stroke-dasharray="2 1"/>
<path d="M849.28 628.29 L747.08 589.65" stroke="#161616" stroke-width="1.17" fill="none"/>
<path d="M 745.33 605.86 C 745.08 604.11 745.83 603.61 747.57 602.87 L 787.46 580.68 C 789.45 579.68 791.45 580.18 793.19 581.18 L 798.18 583.67 C 799.67 584.67 799.67 586.16 799.42 587.66 L 798.68 591.65 L 759.54 619.57 C 758.04 620.81 756.55 620.81 755.05 620.07 L 748.57 617.08 C 747.08 616.33 746.83 615.08 746.58 613.59 Z" fill="none" stroke="#161616" stroke-width="1.95" stroke-linecap="round" />
<path d="M 748.57 606.11 L 789.45 583.42 L 796.93 586.66 L 758.04 611.59 L 748.57 606.11 M 758.04 611.59 L 758.04 620.32 M 759.54 612.59 L 798.43 588.16" fill="none" stroke="#161616" stroke-width="1.56" stroke-linecap="round" />
<path d="M849.28 656.96 L762.03 610.84" stroke="#161616" stroke-width="1.17" fill="none"/>
<path d="M 675.53 613.84 L 675.53 609.35 C 675.53 606.86 679.02 606.86 679.02 609.35 L 679.02 613.84 Z" fill="#fff" stroke="#161616" stroke-width="2.34" stroke-linecap="round" />
<path d="M 674.29 613.34 L 680.27 613.34 L 680.52 618.32 L 674.04 618.32 Z" fill="#161616" stroke="#161616" stroke-width="2.08" stroke-linecap="round" />
<path d="M 698.47 606.36 L 698.47 601.87 C 698.47 599.38 701.96 599.38 701.96 601.87 L 701.96 606.36 Z" fill="#fff" stroke="#161616" stroke-width="2.34" stroke-linecap="round" />
<path d="M 697.22 605.86 L 703.2 605.86 L 703.45 610.84 L 696.97 610.84 Z" fill="#161616" stroke="#161616" stroke-width="2.08" stroke-linecap="round" />
<path d="M600 577.19 L674.29 614.58" stroke="#161616" stroke-width="1.17" fill="none"/>
<path d="M600 597.13 L666.81 644.5" stroke="#161616" stroke-width="1.17" fill="none"/>
<path d="M600 619.57 L651.1 655.71" stroke="#161616" stroke-width="1.17" fill="none"/>
<!-- 70_bottom.py -->
<text transform="translate(584.68 595.22) scale(0.64 1)" text-anchor="middle" font-size="14" y="5.012">52</text>
<text transform="translate(584.68 617.65) scale(0.64 1)" text-anchor="middle" font-size="14" y="5.012">53</text>
<text transform="translate(584.68 648.31) scale(0.64 1)" text-anchor="middle" font-size="14" y="5.012">54</text>
<text transform="translate(584.68 670.75) scale(0.64 1)" text-anchor="middle" font-size="14" y="5.012">26</text>
<text transform="translate(584.68 691.69) scale(0.64 1)" text-anchor="middle" font-size="14" y="5.012">55</text>
<text transform="translate(584.68 710.63) scale(0.64 1)" text-anchor="middle" font-size="14" y="5.012">56</text>
<text transform="translate(584.68 731.08) scale(0.64 1)" text-anchor="middle" font-size="14" y="5.012">57</text>
<path d="M596.89 650.81 L622.32 672.49" stroke="#161616" stroke-width="1.17" fill="none"/>
<path d="M596.89 673.24 L639.77 696.18" stroke="#161616" stroke-width="1.17" fill="none"/>
<path d="M596.15 691.69 L627.31 709.89" stroke="#161616" stroke-width="1.17" fill="none"/>
<path d="M596.15 712.38 L621.07 728.58" stroke="#161616" stroke-width="1.17" fill="none"/>
<path d="M594.9 731.57 L622.32 747.28" stroke="#161616" stroke-width="1.17" fill="none"/>
<path d="M 667.69 641.83 L 689.63 626.88 C 695.86 625.88 701.59 632.61 700.84 640.09 C 700.35 643.83 699.1 645.82 697.6 646.82 L 675.92 657.04 C 669.68 657.54 664.7 652.55 664.7 647.57 C 664.7 644.58 665.94 642.83 667.69 641.83 Z" fill="#fff" stroke="#161616" stroke-width="1.82" stroke-linecap="round" />
<ellipse cx="0" cy="0" rx="6.97987" ry="9.97124" transform="translate(672.43 648.56) rotate(-28)" fill="none" stroke="#161616" stroke-width="1.56"/>
<circle cx="671.68" cy="649.31" r="2.49281" fill="none" stroke="#161616" stroke-width="1.56"/>
<path d="M657.72 658.04 L666.69 651.8" stroke="#161616" stroke-width="1.17" fill="none"/>
<path d="M 649.74 653.8 L 655.97 656.79 L 657.22 668.26 L 642.26 679.23 L 636.03 677.48 L 636.03 674.99 L 649.74 667.51 Z" fill="#fff" stroke="#161616" stroke-width="1.82" stroke-linecap="round" />
<path d="M 649.74 667.51 L 657.22 668.26 M 639.27 675.74 L 647.25 671.25 L 649.24 672.25 L 641.76 676.73 Z" fill="none" stroke="#161616" stroke-width="1.43" stroke-linecap="round" />
<ellipse cx="0" cy="0" rx="1.2464" ry="1.99425" transform="translate(652.98 659.28) rotate(0)" fill="none" stroke="#161616" stroke-width="1.69"/>
<circle cx="625.31" cy="676.23" r="3.48993" fill="none" stroke="#161616" stroke-width="2.34"/>
<circle cx="625.31" cy="676.23" r="1.74497" fill="none" stroke="#161616" stroke-width="2.08"/>
<path d="M 640.77 693.68 C 642.26 691.19 644.76 692.69 644.26 696.18 C 644.01 699.17 641.27 700.16 640.27 697.67 Z" fill="#1c1c1c" stroke="#161616" stroke-width="1.3" stroke-linecap="round" />
<path d="M 621.07 714.87 C 620.58 712.38 622.32 711.13 625.31 710.63 L 689.63 674.99 C 692.12 673.24 695.11 673.24 697.1 674.99 L 713.31 684.21 L 714.06 688.2 L 719.54 691.19 L 723.28 689.94 L 743.22 701.16 C 744.97 702.66 744.97 705.15 743.22 706.65 L 732 712.38 L 727.52 711.63 L 725.77 714.87 L 715.8 720.61 L 709.57 719.86 L 707.08 724.84 L 690.87 734.07 L 685.89 733.57 L 684.14 738.06 L 674.67 743.54 C 672.18 744.79 669.68 744.54 667.69 743.04 L 650.99 733.57 L 650.24 729.83 L 644.76 726.59 L 641.02 728.08 L 623.57 718.61 C 621.82 717.61 621.32 716.37 621.07 714.87 Z" fill="#fff" stroke="#161616" stroke-width="1.625" stroke-linecap="round" />
<circle cx="625.31" cy="715.12" r="0.997124" fill="none" stroke="#161616" stroke-width="1.56"/>
<circle cx="693.61" cy="676.73" r="0.997124" fill="none" stroke="#161616" stroke-width="1.56"/>
<circle cx="740.23" cy="704.15" r="0.997124" fill="none" stroke="#161616" stroke-width="1.56"/>
<circle cx="671.43" cy="741.55" r="0.997124" fill="none" stroke="#161616" stroke-width="1.56"/>
<path d="M707.2 587.19 L709.57 701.16" stroke="#161616" stroke-width="1.17" fill="none"/>
<path d="M624.81 716.87 L624.31 727.84" stroke="#161616" stroke-width="1.56" fill="none"/>
<path d="M 622.32 726.84 L 626.31 726.84 L 626.81 730.83 L 621.82 730.83 Z" fill="#444" stroke="#161616" stroke-width="1.3" stroke-linecap="round" />
<ellipse cx="0" cy="0" rx="5.48418" ry="2.24353" transform="translate(624.31 732.82) rotate(0)" fill="#fff" stroke="#161616" stroke-width="1.82"/>
<ellipse cx="0" cy="0" rx="3.98849" ry="1.49569" transform="translate(624.31 731.33) rotate(0)" fill="#fff" stroke="#161616" stroke-width="1.56"/>
<path d="M740.48 704.4 L739.98 715.37" stroke="#161616" stroke-width="1.56" fill="none"/>
<path d="M 737.99 714.37 L 741.98 714.37 L 742.47 718.36 L 737.49 718.36 Z" fill="#444" stroke="#161616" stroke-width="1.3" stroke-linecap="round" />
<ellipse cx="0" cy="0" rx="5.48418" ry="2.24353" transform="translate(739.98 720.36) rotate(0)" fill="#fff" stroke="#161616" stroke-width="1.82"/>
<ellipse cx="0" cy="0" rx="3.98849" ry="1.49569" transform="translate(739.98 718.86) rotate(0)" fill="#fff" stroke="#161616" stroke-width="1.56"/>
<path d="M672.18 741.79 L671.68 752.76" stroke="#161616" stroke-width="1.56" fill="none"/>
<path d="M 669.68 751.77 L 673.67 751.77 L 674.17 755.75 L 669.19 755.75 Z" fill="#444" stroke="#161616" stroke-width="1.3" stroke-linecap="round" />
<ellipse cx="0" cy="0" rx="5.48418" ry="2.24353" transform="translate(671.68 757.75) rotate(0)" fill="#fff" stroke="#161616" stroke-width="1.82"/>
<ellipse cx="0" cy="0" rx="3.98849" ry="1.49569" transform="translate(671.68 756.25) rotate(0)" fill="#fff" stroke="#161616" stroke-width="1.56"/>
<path d="M 623.07 745.53 L 625.56 745.53 L 625.81 751.02 L 622.82 751.02 Z" fill="#222" stroke="#161616" stroke-width="1.3" stroke-linecap="round" />
<path d="M 738.73 731.82 L 741.23 731.82 L 741.48 737.31 L 738.49 737.31 Z" fill="#222" stroke="#161616" stroke-width="1.3" stroke-linecap="round" />
<path d="M 670.43 771.71 L 672.92 771.71 L 673.17 777.19 L 670.18 777.19 Z" fill="#222" stroke="#161616" stroke-width="1.3" stroke-linecap="round" />
<!-- 80_frame.py -->
<text transform="translate(683.74 210.96) scale(0.64 1)" text-anchor="middle" font-size="14" y="5.012">40</text>
<text transform="translate(695.46 223.42) scale(0.64 1)" text-anchor="middle" font-size="14" y="5.012">41</text>
<text transform="translate(706.17 235.89) scale(0.64 1)" text-anchor="middle" font-size="14" y="5.012">42</text>
<text transform="translate(721.88 245.86) scale(0.64 1)" text-anchor="middle" font-size="14" y="5.012">9</text>
<text transform="translate(746.06 277.02) scale(0.64 1)" text-anchor="middle" font-size="14" y="5.012">43</text>
<text transform="translate(761.02 290.73) scale(0.64 1)" text-anchor="middle" font-size="14" y="5.012">44</text>
<text transform="translate(775.97 303.19) scale(0.64 1)" text-anchor="middle" font-size="14" y="5.012">45</text>
<text transform="translate(812.12 177.8) scale(0.64 1)" text-anchor="middle" font-size="14" y="5.012">77</text>
<text transform="translate(820.84 193.51) scale(0.64 1)" text-anchor="middle" font-size="14" y="5.012">78</text>
<text transform="translate(832.56 165.34) scale(0.64 1)" text-anchor="middle" font-size="14" y="5.012">81</text>
<text transform="translate(844.53 181.05) scale(0.64 1)" text-anchor="middle" font-size="14" y="5.012">80</text>
<text transform="translate(854 238.38) scale(0.64 1)" text-anchor="middle" font-size="14" y="5.012">6</text>
<text transform="translate(865.71 233.39) scale(0.64 1)" text-anchor="middle" font-size="14" y="5.012">82</text>
<text transform="translate(878.18 227.16) scale(0.64 1)" text-anchor="middle" font-size="14" y="5.012">83</text>
<text transform="translate(891.39 220.93) scale(0.64 1)" text-anchor="middle" font-size="14" y="5.012">11</text>
<text transform="translate(903.11 214.7) scale(0.64 1)" text-anchor="middle" font-size="14" y="5.012">63</text>
<text transform="translate(925.54 294.97) scale(0.64 1)" text-anchor="middle" font-size="14" y="5.012">63</text>
<path d="M763.51 193.51 L912.08 111" stroke="#161616" stroke-width="1.17" fill="none"/>
<path d="M713.65 232.15 L763.51 176.81" stroke="#161616" stroke-width="1.17" fill="none"/>
<path d="M704.93 219.68 L752.29 182.79" stroke="#161616" stroke-width="1.17" fill="none"/>
<path d="M696.2 204.73 L736.84 186.03" stroke="#161616" stroke-width="1.17" fill="none"/>
<path d="M680 191.76 L736.84 171.07" stroke="#161616" stroke-width="1.17" fill="none"/>
<path d="M729.86 242.12 L770.24 210.71" stroke="#161616" stroke-width="1.17" fill="none"/>
<path d="M731.1 275.77 L797.16 241.62" stroke="#161616" stroke-width="1.17" fill="none"/>
<path d="M766 285.74 L810.87 255.08" stroke="#161616" stroke-width="1.17" fill="none"/>
<path d="M784.7 303.94 L813.37 257.57" stroke="#161616" stroke-width="1.17" fill="none"/>
<path d="M799.65 309.42 L854.5 257.57" stroke="#161616" stroke-width="1.17" fill="none"/>
<path d="M811.87 324.63 L859.98 260.07" stroke="#161616" stroke-width="1.17" fill="none"/>
<path d="M 774.23 156.12 L 803.64 139.66 L 792.43 117.23 L 812.37 106.01" fill="none" stroke="#161616" stroke-width="1.3" stroke-linecap="round" />
<path d="M 775.97 161.1 L 829.57 129.94" fill="none" stroke="#161616" stroke-width="1.17" stroke-linecap="round" />
<path d="M713.65 114.74 L752.79 165.34" stroke="#161616" stroke-width="1.17" fill="none"/>
<path d="M714.9 113.74 L761.76 171.82" stroke="#161616" stroke-width="1.17" fill="none"/>
<text transform="translate(707.42 106.76) scale(0.64 1)" text-anchor="middle" font-size="14" y="5.012">67</text>
<text transform="translate(727.86 95.29) scale(0.64 1)" text-anchor="middle" font-size="14" y="5.012">68</text>
<path d="M732.35 102.27 L763.51 147.14" stroke="#161616" stroke-width="1.17" fill="none"/>
<path d="M 759.52 149.88 L 777.97 140.66 C 779.71 139.91 781.21 140.91 780.96 142.41 L 779.46 144.4 L 777.97 146.89 L 787.19 174.31 L 799.41 201.98 L 813.12 227.91 L 815.86 227.16 L 822.59 229.16 L 820.84 234.64 L 827.08 240.87 L 836.55 235.89 L 834.06 244.61 L 827.08 248.35 L 812.12 256.58 C 804.64 254.58 797.16 247.1 791.68 237.13 L 779.46 215.7 L 765.75 174.31 L 758.02 157.61 C 756.78 153.62 757.78 151.13 759.52 149.88 Z" fill="none" stroke="#161616" stroke-width="1.82" stroke-linecap="round" />
<path d="M 768.74 149.88 L 779.46 144.4 M 762.26 152.38 C 764.26 151.13 766 152.88 766.75 155.37" fill="none" stroke="#161616" stroke-width="1.43" stroke-linecap="round" />
<path d="M 763.51 155.12 L 813.12 229.41 M 766 154.37 L 815.11 227.66" fill="none" stroke="#161616" stroke-width="1.69" stroke-linecap="round" />
<path d="M 779.21 190.27 L 782.7 189.27 L 786.69 196.75 L 783.2 198.25 Z M 786.69 197.75 L 790.93 199.24 L 789.68 202.73 L 794.67 202.23" fill="none" stroke="#161616" stroke-width="1.43" stroke-linecap="round" />
<circle cx="790.18" cy="200.24" r="1.29626" fill="#161616"/>
<ellipse cx="0" cy="0" rx="3.73921" ry="5.98274" transform="translate(802.65 235.89) rotate(-20)" fill="none" stroke="#161616" stroke-width="2.21"/>
<ellipse cx="0" cy="0" rx="3.48993" ry="4.98562" transform="translate(797.66 240.87) rotate(-20)" fill="none" stroke="#161616" stroke-width="2.21"/>
<ellipse cx="0" cy="0" rx="1.49569" ry="2.49281" transform="translate(804.64 234.64) rotate(-20)" fill="none" stroke="#161616" stroke-width="1.82"/>
<path d="M 796.66 239.13 L 804.14 242.12 M 799.65 235.89 L 801.65 244.61" fill="none" stroke="#161616" stroke-width="1.82" stroke-linecap="round" />
<path d="M 805.89 233.39 L 816.61 229.16 M 795.17 244.61 L 804.64 253.34" fill="none" stroke="#161616" stroke-width="1.43" stroke-linecap="round" />
<circle cx="798.41" cy="226.66" r="1.29626" fill="#161616"/>
<circle cx="812.12" cy="252.59" r="2.26846" fill="#161616"/>
<circle cx="818.35" cy="250.84" r="1.62033" fill="#161616"/>
<circle cx="825.08" cy="245.86" r="1.62033" fill="#161616"/>
<circle cx="829.57" cy="244.61" r="1.29626" fill="#161616"/>
<circle cx="802.15" cy="259.57" r="2.26846" fill="#161616"/>
<circle cx="753.54" cy="166.84" r="2.26846" fill="#161616"/>
<circle cx="762.76" cy="174.31" r="1.94439" fill="#161616"/>
<circle cx="770.24" cy="169.83" r="1.62033" fill="#161616"/>
<circle cx="763.51" cy="193.51" r="2.59252" fill="#161616"/>
<circle cx="771.74" cy="209.71" r="2.59252" fill="#161616"/>
<circle cx="779.21" cy="225.92" r="2.59252" fill="#161616"/>
<circle cx="719.39" cy="280.76" r="2.59252" fill="#161616"/>
<circle cx="706.92" cy="286.99" r="2.59252" fill="#161616"/>
<circle cx="688.72" cy="272.03" r="2.59252" fill="#161616"/>
<circle cx="881.92" cy="246.61" r="2.59252" fill="#161616"/>
<circle cx="834.06" cy="223.42" r="1.29626" fill="#161616"/>
<circle cx="840.79" cy="223.42" r="1.29626" fill="#161616"/>
<circle cx="823.34" cy="215.94" r="1.29626" fill="#161616"/>
<circle cx="818.35" cy="218.44" r="1.29626" fill="#161616"/>
<circle cx="799.65" cy="214.7" r="0.972196" fill="#161616"/>
<circle cx="797.66" cy="226.66" r="0.972196" fill="#161616"/>
<path d="M 733.6 172.32 L 737.83 169.83 L 743.57 171.32 L 745.31 175.31 L 741.82 177.8 L 741.07 182.29 L 744.31 182.79 L 743.82 187.28 L 739.83 190.27 L 736.84 188.52 L 736.34 182.29 Z" fill="#fff" stroke="#161616" stroke-width="1.82" stroke-linecap="round" />
<path d="M 737.83 169.83 L 739.83 175.31 L 745.31 175.31 M 739.83 175.31 L 741.07 182.29" fill="none" stroke="#161616" stroke-width="1.3" stroke-linecap="round" />
<path d="M 744.31 182.79 L 746.81 180.3 L 747.8 183.79 L 750.3 178.8 L 751.79 182.79 L 754.29 177.31 L 755.78 181.29 L 758.52 176.31" fill="none" stroke="#161616" stroke-width="2.08" stroke-linecap="round" />
<path d="M 811.37 183.54 L 811.37 194.26 L 807.88 196" fill="none" stroke="#161616" stroke-width="1.95" stroke-linecap="round" />
<path d="M 817.6 197.25 L 817.6 217.69 L 820.1 218.69" fill="none" stroke="#161616" stroke-width="1.69" stroke-linecap="round" />
<circle cx="823.34" cy="214.95" r="1.29626" fill="#161616"/>
<path d="M 771.74 209.71 L 807.13 192.26 L 810.12 195.25 L 816.36 207.72 L 852 189.77" fill="none" stroke="#161616" stroke-width="1.17" stroke-linecap="round" />
<path d="M785.7 223.42 L800.9 214.7" stroke="#161616" stroke-width="1.17" fill="none"/>
<path d="M 820.84 117.98 L 832.56 112.49" fill="none" stroke="#161616" stroke-width="3.12" stroke-linecap="round" />
<path d="M 827.08 115.48 L 829.57 120.47" fill="none" stroke="#161616" stroke-width="1.82" stroke-linecap="round" />
<path d="M 829.57 120.47 L 839.54 139.42" fill="none" stroke="#161616" stroke-width="3.9" stroke-linecap="round" stroke-dasharray="1.5 0.35" style="stroke-linecap:butt"/>
<path d="M 842.53 146.89 L 857.49 177.8 M 845.02 145.9 L 859.98 176.81" fill="none" stroke="#161616" stroke-width="1.56" stroke-linecap="round" />
<ellipse cx="0" cy="0" rx="1.49569" ry="0.997124" transform="translate(843.78 146.4) rotate(-20)" fill="none" stroke="#161616" stroke-width="1.56"/>
<path d="M838.29 167.83 L854.5 171.82" stroke="#161616" stroke-width="1.17" fill="none"/>
<path d="M849.51 181.05 L858.24 181.54" stroke="#161616" stroke-width="1.17" fill="none"/>
<ellipse cx="0" cy="0" rx="1.99425" ry="1.49569" transform="translate(860.98 181.05) rotate(0)" fill="none" stroke="#161616" stroke-width="1.95"/>
<path d="M818.35 227.16 L852 208.96" stroke="#161616" stroke-width="1.17" fill="none"/>
<path d="M860.73 204.23 L891.89 186.78" stroke="#161616" stroke-width="1.17" fill="none"/>
<path d="M 835.8 204.23 L 840.79 201.24 L 843.28 201.74 L 839.04 204.73 Z" fill="#1c1c1c" stroke="#161616" stroke-width="1.3" stroke-linecap="round" />
<ellipse cx="0" cy="0" rx="3.24065" ry="4.73634" transform="translate(857.49 205.97) rotate(-20)" fill="none" stroke="#161616" stroke-width="3.38"/>
<ellipse cx="0" cy="0" rx="0.997124" ry="1.49569" transform="translate(857.49 205.97) rotate(-20)" fill="none" stroke="#161616" stroke-width="1.95"/>
<ellipse cx="0" cy="0" rx="2.74209" ry="1.49569" transform="translate(851.01 212.21) rotate(-25)" fill="#1c1c1c" stroke="#161616" stroke-width="1.3"/>
<ellipse cx="0" cy="0" rx="2.74209" ry="1.49569" transform="translate(849.51 218.44) rotate(-25)" fill="#1c1c1c" stroke="#161616" stroke-width="1.3"/>
<path d="M853.25 233.39 L850.26 220.93" stroke="#161616" stroke-width="1.17" fill="none"/>
<path d="M864.47 227.16 L858.98 210.96" stroke="#161616" stroke-width="1.17" fill="none"/>
<ellipse cx="0" cy="0" rx="2.49281" ry="3.24065" transform="translate(871.45 210.21) rotate(-20)" fill="none" stroke="#161616" stroke-width="2.08"/>
<path d="M 868.95 207.72 L 873.94 204.73 M 874.44 205.23 L 886.4 199.74 M 875.44 207.72 L 886.9 202.23" fill="none" stroke="#161616" stroke-width="2.34" stroke-linecap="round" />
<path d="M875.69 222.18 L871.95 213.2" stroke="#161616" stroke-width="1.17" fill="none"/>
<path d="M889.4 215.94 L879.42 206.72" stroke="#161616" stroke-width="1.17" fill="none"/>
<path d="M899.37 210.96 L886.4 202.73" stroke="#161616" stroke-width="1.17" fill="none"/>
<path d="M 854.5 134.93 L 873.19 125.46 L 894.38 161.1 L 876.93 171.07 Z" fill="#fff" stroke="#161616" stroke-width="1.82" stroke-linecap="round" />
<path d="M 857.49 134.93 L 878.93 169.83 M 859.98 134.43 L 880.92 168.58" fill="none" stroke="#161616" stroke-width="2.6" stroke-linecap="round" />
<path d="M 863.97 141.16 L 879.42 166.09 M 854.5 134.93 L 857.49 132.93" fill="none" stroke="#161616" stroke-width="1.3" stroke-linecap="round" />
<path d="M 890.64 168.83 L 905.6 162.35 C 914.32 161.85 921.3 171.07 920.56 184.78 C 920.06 191.02 917.32 194.76 914.32 196.5 L 903.11 203.73 C 891.89 205.97 882.42 196 881.92 184.78 C 881.42 176.06 884.91 171.07 890.64 168.83 Z" fill="#fff" stroke="#161616" stroke-width="1.95" stroke-linecap="round" />
<path d="M 890.64 168.83 C 901.86 168.58 910.58 179.8 909.84 192.26 C 909.34 198.49 906.85 201.74 903.11 203.73" fill="none" stroke="#161616" stroke-width="1.69" stroke-linecap="round" />
<ellipse cx="0" cy="0" rx="5.48418" ry="6.97987" transform="translate(895.88 185.28) rotate(-20)" fill="none" stroke="#161616" stroke-width="1.82"/>
<ellipse cx="0" cy="0" rx="2.49281" ry="3.48993" transform="translate(896.38 184.78) rotate(-20)" fill="none" stroke="#161616" stroke-width="2.08"/>
<path d="M 891.89 182.29 L 900.61 179.8 M 893.14 189.27 L 901.36 186.03" fill="none" stroke="#161616" stroke-width="1.3" stroke-linecap="round" />
<path d="M883.16 248.35 L920.56 289.48" stroke="#161616" stroke-width="1.17" fill="none"/>
<path d="M 852 255.08 L 876.43 250.1 C 882.42 253.34 886.4 259.57 887.4 266.55 L 866.46 273.53 Z" fill="#fff" stroke="#161616" stroke-width="1.69" stroke-linecap="round" />
<path d="M 854.5 254.58 L 864.47 264.55 M 859.48 254.08 L 863.22 262.06 M 855.74 259.57 L 869.45 254.58 M 863.22 257.08 L 869.45 259.57 L 865.71 263.31" fill="none" stroke="#161616" stroke-width="2.34" stroke-linecap="round" />
<path d="M829.07 244.11 L854.5 259.57" stroke="#161616" stroke-width="1.3" fill="none"/>
<!-- 85_belts.py -->
<text transform="translate(890.94 1.99) scale(0.64 1)" text-anchor="middle" font-size="14" y="5.012">76</text>
<text transform="translate(877.23 11.22) scale(0.64 1)" text-anchor="middle" font-size="14" y="5.012">75</text>
<text transform="translate(861.03 19.94) scale(0.64 1)" text-anchor="middle" font-size="14" y="5.012">74</text>
<text transform="translate(846.07 28.67) scale(0.64 1)" text-anchor="middle" font-size="14" y="5.012">71</text>
<text transform="translate(834.86 34.9) scale(0.64 1)" text-anchor="middle" font-size="14" y="5.012">72</text>
<text transform="translate(823.64 41.13) scale(0.64 1)" text-anchor="middle" font-size="14" y="5.012">73</text>
<text transform="translate(813.17 46.12) scale(0.64 1)" text-anchor="middle" font-size="14" y="5.012">72</text>
<text transform="translate(802.95 52.35) scale(0.64 1)" text-anchor="middle" font-size="14" y="5.012">71</text>
<text transform="translate(791.23 59.83) scale(0.64 1)" text-anchor="middle" font-size="14" y="5.012">70</text>
<text transform="translate(774.03 69.8) scale(0.64 1)" text-anchor="middle" font-size="14" y="5.012">69</text>
<text transform="translate(1039.77 152.06) scale(0.64 1)" text-anchor="middle" font-size="14" y="5.012">43</text>
<text transform="translate(1023.06 163.28) scale(0.64 1)" text-anchor="middle" font-size="14" y="5.012">11</text>
<text transform="translate(999.88 174.5) scale(0.64 1)" text-anchor="middle" font-size="14" y="5.012">79</text>
<text transform="translate(978.94 185.71) scale(0.64 1)" text-anchor="middle" font-size="14" y="5.012">64</text>
<text transform="translate(961.49 193.19) scale(0.64 1)" text-anchor="middle" font-size="14" y="5.012">84</text>
<path d="M894.68 7.48 L923.35 58.58" stroke="#161616" stroke-width="1.17" fill="none"/>
<path d="M881.72 17.45 L907.15 72.29" stroke="#161616" stroke-width="1.17" fill="none"/>
<path d="M865.27 26.92 L886.71 63.57" stroke="#161616" stroke-width="1.17" fill="none"/>
<path d="M849.31 34.9 L866.76 72.29" stroke="#161616" stroke-width="1.17" fill="none"/>
<path d="M838.6 41.13 L857.79 76.03" stroke="#161616" stroke-width="1.17" fill="none"/>
<path d="M827.38 47.36 L847.32 80.27" stroke="#161616" stroke-width="1.17" fill="none"/>
<path d="M816.16 52.35 L837.85 91.74" stroke="#161616" stroke-width="1.17" fill="none"/>
<path d="M806.19 58.58 L829.87 95.97" stroke="#161616" stroke-width="1.17" fill="none"/>
<path d="M794.47 65.31 L820.4 99.21" stroke="#161616" stroke-width="1.17" fill="none"/>
<path d="M778.77 74.78 L812.92 100.96" stroke="#161616" stroke-width="1.17" fill="none"/>
<path d="M 891.69 86 C 889.2 81.02 892.19 79.27 895.93 77.78 L 907.65 72.29 L 959.5 159.54 C 961.49 169.51 953.26 174.5 947.53 172 C 944.54 179.98 932.08 181.48 925.84 172 Z" fill="none" stroke="#161616" stroke-width="1.69" stroke-linecap="round" />
<path d="M 895.93 77.78 L 937.56 159.54 C 939.06 165.77 944.54 172 947.53 172 M 902.16 74.78 L 947.03 159.54 M 924.6 129.63 L 944.54 172" fill="none" stroke="#161616" stroke-width="1.43" stroke-linecap="round" />
<path d="M 922.6 59.33 L 959.5 154.55 C 963.24 165.02 982.43 167.52 982.43 148.32" fill="none" stroke="#161616" stroke-width="2.6" stroke-linecap="round" />
<path d="M 982.43 148.32 C 981.43 139.6 959.5 99.71 927.59 57.33 C 925.84 55.34 921.61 56.09 922.6 59.33" fill="none" stroke="#161616" stroke-width="2.08" stroke-linecap="round" />
<path d="M 925.1 62.32 L 961.49 153.31 C 964.98 161.53 979.44 163.28 979.44 149.07 C 978.44 140.84 957 102.21 928.34 61.07" fill="none" stroke="#161616" stroke-width="1.3" stroke-linecap="round" />
<circle cx="978.94" cy="135.86" r="1.29626" fill="#161616"/>
<path d="M937.06 117.16 L984.42 95.97" stroke="#161616" stroke-width="1.17" fill="none"/>
<circle cx="954.01" cy="114.17" r="1.62033" fill="#161616"/>
<circle cx="971.46" cy="102.7" r="1.94439" fill="#161616"/>
<path d="M924.6 171.01 L981.93 136.61" stroke="#161616" stroke-width="1.17" fill="none"/>
<path d="M885.96 143.34 L994.4 170.76" stroke="#161616" stroke-width="1.17" fill="none"/>
<path d="M974.45 180.73 L925.1 172.5" stroke="#161616" stroke-width="1.17" fill="none"/>
<path d="M957 190.7 L902.16 177.49" stroke="#161616" stroke-width="1.17" fill="none"/>
<path d="M1034.28 147.08 L991.9 98.47" stroke="#161616" stroke-width="1.17" fill="none"/>
<path d="M1018.08 157.05 L973.21 104.7" stroke="#161616" stroke-width="1.17" fill="none"/>
<path d="M 981.93 93.48 L 985.67 89.74 L 989.91 91.74 L 991.4 95.97 L 988.16 99.21 L 983.18 98.47 Z" fill="#fff" stroke="#161616" stroke-width="1.95" stroke-linecap="round" />
<path d="M 985.67 89.74 L 986.92 94.73 L 983.18 98.47 M 986.92 94.73 L 991.4 95.97" fill="none" stroke="#161616" stroke-width="1.3" stroke-linecap="round" />
<ellipse cx="0" cy="0" rx="2.99137" ry="3.48993" transform="translate(921.61 171.51) rotate(-20)" fill="none" stroke="#161616" stroke-width="3.38"/>
<path d="M 811.17 101.71 L 816.16 99.71 L 819.4 113.42 L 824.88 117.16 L 821.89 119.16 L 814.91 114.67 Z" fill="#fff" stroke="#161616" stroke-width="1.69" stroke-linecap="round" />
<ellipse cx="0" cy="0" rx="2.24353" ry="2.99137" transform="translate(814.42 102.21) rotate(-20)" fill="none" stroke="#161616" stroke-width="1.69"/>
<ellipse cx="0" cy="0" rx="2.24353" ry="2.99137" transform="translate(821.4 99.71) rotate(-20)" fill="none" stroke="#161616" stroke-width="2.08"/>
<ellipse cx="0" cy="0" rx="2.74209" ry="3.73921" transform="translate(829.37 96.72) rotate(-20)" fill="none" stroke="#161616" stroke-width="3.9"/>
<ellipse cx="0" cy="0" rx="2.74209" ry="3.98849" transform="translate(836.6 93.48) rotate(-20)" fill="none" stroke="#161616" stroke-width="1.95"/>
<path d="M 841.84 81.02 L 856.05 73.54 C 859.78 73.54 862.78 78.52 861.78 84.76 L 847.32 94.23 C 843.58 94.73 839.84 89.74 839.84 85.25 C 839.84 83.01 840.59 81.76 841.84 81.02 Z" fill="#fff" stroke="#161616" stroke-width="1.82" stroke-linecap="round" />
<ellipse cx="0" cy="0" rx="3.73921" ry="6.4813" transform="translate(843.83 87.75) rotate(-20)" fill="none" stroke="#161616" stroke-width="1.95"/>
<path d="M 857.79 75.28 L 859.78 80.27 M 856.05 82.26 L 863.52 78.52" fill="none" stroke="#161616" stroke-width="1.3" stroke-linecap="round" />
<ellipse cx="0" cy="0" rx="2.99137" ry="4.98562" transform="translate(866.76 73.54) rotate(-20)" fill="none" stroke="#161616" stroke-width="4.16"/>
<path d="M 871 68.8 L 886.71 61.32 M 872 71.79 L 887.7 64.31 M 871 70.3 L 877.73 66.81" fill="none" stroke="#161616" stroke-width="1.43" stroke-linecap="round" />
<ellipse cx="0" cy="0" rx="1.49569" ry="2.49281" transform="translate(888.7 62.32) rotate(-20)" fill="none" stroke="#161616" stroke-width="2.6"/>
<!-- 88_part66.py -->
<text transform="translate(993.15 259.68) scale(0.64 1)" text-anchor="middle" font-size="14" y="5.012">66</text>
<path d="M988.16 252.21 L967.47 231.27" stroke="#161616" stroke-width="1.17" fill="none"/>
<text transform="translate(974.45 266.66) scale(0.64 1)" text-anchor="middle" font-size="14" y="5.012">65</text>
<path d="M970.71 260.93 L950.02 245.23" stroke="#161616" stroke-width="1.17" fill="none"/>
<text transform="translate(959 276.63) scale(0.64 1)" text-anchor="middle" font-size="14" y="5.012">50</text>
<path d="M957 269.16 L948.53 250.21" stroke="#161616" stroke-width="1.17" fill="none"/>
<path d="M 922.1 217.8 C 922.6 214.31 925.1 212.32 928.34 211.57 L 940.05 210.33 C 942.55 210.58 943.54 212.32 945.04 215.31 L 951.52 221.79 C 955.76 223.79 960 222.29 961.99 218.55 L 964.98 214.31 L 971.96 217.31 C 972.46 221.79 970.71 226.03 965.73 231.02 C 960.74 236 952.02 238.49 945.79 236.25 C 942.05 234.76 940.05 231.76 937.56 229.77 L 929.58 227.78 C 925.1 226.03 922.1 222.29 922.1 217.8 Z" fill="#fff" stroke="#161616" stroke-width="1.95" stroke-linecap="round" />
<path d="M 964.98 214.31 L 966.48 222.29 C 963.24 227.78 957 231.02 949.53 230.27 C 944.54 229.27 940.8 224.78 937.56 222.29 M 945.04 215.31 L 937.56 222.29 L 930.83 224.78 M 959.5 222.79 L 962.49 224.78 M 941.55 229.27 L 947.03 227.78 L 949.53 232.26" fill="none" stroke="#161616" stroke-width="1.56" stroke-linecap="round" />
<ellipse cx="0" cy="0" rx="3.98849" ry="3.24065" transform="translate(929.58 218.05) rotate(-20)" fill="none" stroke="#161616" stroke-width="1.95"/>
<path d="M 934.57 215.31 L 942.55 212.82 M 933.57 221.05 L 928.34 232.26 M 937.06 222.29 L 932.08 233.51" fill="none" stroke="#161616" stroke-width="1.56" stroke-linecap="round" />
<circle cx="919.11" cy="238" r="1.94439" fill="#161616"/>
<circle cx="926.09" cy="237" r="1.94439" fill="#161616"/>
<path d="M 920.86 236.75 L 924.6 232.76 M 927.59 236 L 931.58 231.76" fill="none" stroke="#161616" stroke-width="2.08" stroke-linecap="round" />
<path d="M 944.54 243.23 L 948.28 244.23" fill="none" stroke="#161616" stroke-width="2.34" stroke-linecap="round" />
<circle cx="947.53" cy="249.21" r="1.62033" fill="#161616"/>
<path d="M962.49 234.76 L964.48 245.97" stroke="#161616" stroke-width="1.17" fill="none"/>
<circle cx="964.98" cy="248.72" r="1.62033" fill="#161616"/>
<path d="M 962.49 243.48 L 966.48 244.23" fill="none" stroke="#161616" stroke-width="1.56" stroke-linecap="round" />
</g>
</svg>
</body></html>
